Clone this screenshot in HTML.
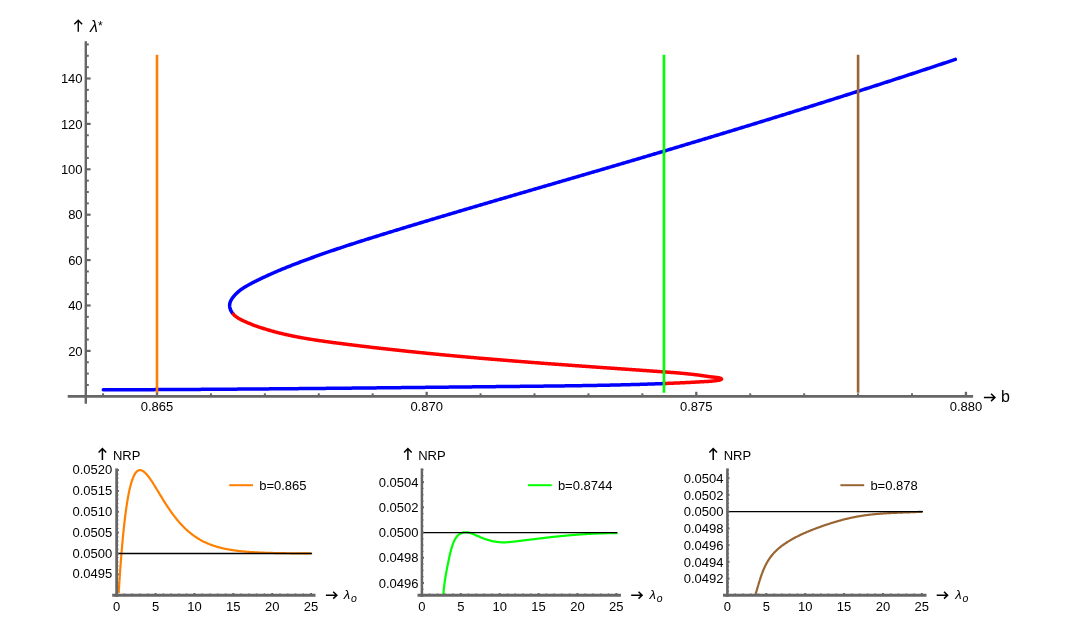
<!DOCTYPE html>
<html><head><meta charset="utf-8"><title>Bifurcation plot</title>
<style>
html,body{margin:0;padding:0;background:#ffffff;}
body{width:1066px;height:642px;overflow:hidden;font-family:"Liberation Sans", sans-serif;}
svg text{font-family:"Liberation Sans", sans-serif;}
</style></head>
<body>
<svg width="1066" height="642" viewBox="0 0 1066 642" style="display:block;will-change:transform" font-family='"Liberation Sans", sans-serif'>
<path d="M955.31,59.42 L954.59,59.66 L953.87,59.90 L953.15,60.15 L952.43,60.39 L951.71,60.63 L950.99,60.87 L950.27,61.11 L949.55,61.35 L948.84,61.59 L948.12,61.83 L947.40,62.07 L946.68,62.31 L945.96,62.55 L945.24,62.79 L944.52,63.03 L943.80,63.27 L943.08,63.51 L942.36,63.75 L941.64,63.99 L940.92,64.23 L940.20,64.47 L939.48,64.71 L938.76,64.95 L938.04,65.19 L937.32,65.43 L936.60,65.66 L935.89,65.90 L935.17,66.14 L934.45,66.38 L933.73,66.62 L933.01,66.86 L932.29,67.10 L931.57,67.34 L930.85,67.57 L930.13,67.81 L929.41,68.05 L928.69,68.29 L927.97,68.53 L927.25,68.77 L926.53,69.00 L925.81,69.24 L925.09,69.48 L924.37,69.72 L923.65,69.96 L922.93,70.19 L922.21,70.43 L921.49,70.67 L920.77,70.91 L920.05,71.14 L919.33,71.38 L918.61,71.62 L917.89,71.85 L917.17,72.09 L916.45,72.33 L915.72,72.57 L915.00,72.80 L914.28,73.04 L913.56,73.28 L912.84,73.51 L912.12,73.75 L911.40,73.99 L910.68,74.22 L909.96,74.46 L909.24,74.69 L908.52,74.93 L907.80,75.17 L907.08,75.40 L906.36,75.64 L905.64,75.88 L904.92,76.11 L904.20,76.35 L903.48,76.58 L902.75,76.82 L902.03,77.05 L901.31,77.29 L900.59,77.52 L899.87,77.76 L899.15,78.00 L898.43,78.23 L897.71,78.47 L896.99,78.70 L896.27,78.94 L895.55,79.17 L894.82,79.41 L894.10,79.64 L893.38,79.88 L892.66,80.11 L891.94,80.34 L891.22,80.58 L890.50,80.81 L889.78,81.05 L889.06,81.28 L888.33,81.52 L887.61,81.75 L886.89,81.98 L886.17,82.22 L885.45,82.45 L884.73,82.69 L884.01,82.92 L883.29,83.15 L882.56,83.39 L881.84,83.62 L881.12,83.85 L880.40,84.09 L879.68,84.32 L878.96,84.55 L878.24,84.79 L877.51,85.02 L876.79,85.25 L876.07,85.49 L875.35,85.72 L874.63,85.95 L873.91,86.19 L873.18,86.42 L872.46,86.65 L871.74,86.88 L871.02,87.12 L870.30,87.35 L869.58,87.58 L868.85,87.81 L868.13,88.05 L867.41,88.28 L866.69,88.51 L865.97,88.74 L865.24,88.97 L864.52,89.21 L863.80,89.44 L863.08,89.67 L862.36,89.90 L861.63,90.13 L860.91,90.37 L860.19,90.60 L859.47,90.83 L858.75,91.06 L858.02,91.29 L857.30,91.52 L856.58,91.75 L855.86,91.99 L855.13,92.22 L854.41,92.45 L853.69,92.68 L852.97,92.91 L852.25,93.14 L851.52,93.37 L850.80,93.60 L850.08,93.83 L849.36,94.06 L848.63,94.29 L847.91,94.52 L847.19,94.75 L846.47,94.98 L845.74,95.21 L845.02,95.45 L844.30,95.68 L843.58,95.91 L842.85,96.14 L842.13,96.37 L841.41,96.60 L840.69,96.82 L839.96,97.05 L839.24,97.28 L838.52,97.51 L837.79,97.74 L837.07,97.97 L836.35,98.20 L835.63,98.43 L834.90,98.66 L834.18,98.89 L833.46,99.12 L832.74,99.35 L832.01,99.58 L831.29,99.81 L830.57,100.04 L829.84,100.26 L829.12,100.49 L828.40,100.72 L827.67,100.95 L826.95,101.18 L826.23,101.41 L825.51,101.64 L824.78,101.86 L824.06,102.09 L823.34,102.32 L822.61,102.55 L821.89,102.78 L821.17,103.01 L820.44,103.23 L819.72,103.46 L819.00,103.69 L818.27,103.92 L817.55,104.15 L816.83,104.37 L816.10,104.60 L815.38,104.83 L814.66,105.06 L813.93,105.28 L813.21,105.51 L812.49,105.74 L811.76,105.97 L811.04,106.19 L810.32,106.42 L809.59,106.65 L808.87,106.87 L808.15,107.10 L807.42,107.33 L806.70,107.55 L805.97,107.78 L805.25,108.01 L804.53,108.24 L803.80,108.46 L803.08,108.69 L802.36,108.91 L801.63,109.14 L800.91,109.37 L800.19,109.59 L799.46,109.82 L798.74,110.05 L798.01,110.27 L797.29,110.50 L796.57,110.72 L795.84,110.95 L795.12,111.18 L794.39,111.40 L793.67,111.63 L792.95,111.85 L792.22,112.08 L791.50,112.31 L790.78,112.53 L790.05,112.76 L789.33,112.98 L788.60,113.21 L787.88,113.43 L787.15,113.66 L786.43,113.88 L785.71,114.11 L784.98,114.33 L784.26,114.56 L783.53,114.78 L782.81,115.01 L782.09,115.23 L781.36,115.46 L780.64,115.68 L779.91,115.91 L779.19,116.13 L778.46,116.36 L777.74,116.58 L777.02,116.81 L776.29,117.03 L775.57,117.26 L774.84,117.48 L774.12,117.70 L773.39,117.93 L772.67,118.15 L771.95,118.38 L771.22,118.60 L770.50,118.82 L769.77,119.05 L769.05,119.27 L768.32,119.50 L767.60,119.72 L766.87,119.94 L766.15,120.17 L765.42,120.39 L764.70,120.61 L763.97,120.84 L763.25,121.06 L762.53,121.28 L761.80,121.51 L761.08,121.73 L760.35,121.95 L759.63,122.18 L758.90,122.40 L758.18,122.62 L757.45,122.85 L756.73,123.07 L756.00,123.29 L755.28,123.51 L754.55,123.74 L753.83,123.96 L753.10,124.18 L752.38,124.41 L751.65,124.63 L750.93,124.85 L750.20,125.07 L749.48,125.30 L748.75,125.52 L748.03,125.74 L747.30,125.96 L746.58,126.18 L745.85,126.41 L745.13,126.63 L744.40,126.85 L743.68,127.07 L742.95,127.29 L742.23,127.52 L741.50,127.74 L740.78,127.96 L740.05,128.18 L739.33,128.40 L738.60,128.63 L737.88,128.85 L737.15,129.07 L736.43,129.29 L735.70,129.51 L734.98,129.73 L734.25,129.95 L733.52,130.18 L732.80,130.40 L732.07,130.62 L731.35,130.84 L730.62,131.06 L729.90,131.28 L729.17,131.50 L728.45,131.72 L727.72,131.94 L727.00,132.16 L726.27,132.38 L725.54,132.61 L724.82,132.83 L724.09,133.05 L723.37,133.27 L722.64,133.49 L721.92,133.71 L721.19,133.93 L720.47,134.15 L719.74,134.37 L719.01,134.59 L718.29,134.81 L717.56,135.03 L716.84,135.25 L716.11,135.47 L715.39,135.69 L714.66,135.91 L713.93,136.13 L713.21,136.35 L712.48,136.57 L711.76,136.79 L711.03,137.01 L710.31,137.23 L709.58,137.45 L708.85,137.67 L708.13,137.89 L707.40,138.11 L706.68,138.33 L705.95,138.54 L705.22,138.76 L704.50,138.98 L703.77,139.20 L703.05,139.42 L702.32,139.64 L701.59,139.86 L700.87,140.08 L700.14,140.30 L699.42,140.52 L698.69,140.74 L697.96,140.95 L697.24,141.17 L696.51,141.39 L695.79,141.61 L695.06,141.83 L694.33,142.05 L693.61,142.27 L692.88,142.48 L692.16,142.70 L691.43,142.92 L690.70,143.14 L689.98,143.36 L689.25,143.58 L688.52,143.79 L687.80,144.01 L687.07,144.23 L686.35,144.45 L685.62,144.67 L684.89,144.89 L684.17,145.10 L683.44,145.32 L682.71,145.54 L681.99,145.76 L681.26,145.97 L680.53,146.19 L679.81,146.41 L679.08,146.63 L678.35,146.84 L677.63,147.06 L676.90,147.28 L676.18,147.50 L675.45,147.71 L674.72,147.93 L674.00,148.15 L673.27,148.37 L672.54,148.58 L671.82,148.80 L671.09,149.02 L670.36,149.24 L669.64,149.45 L668.91,149.67 L668.18,149.89 L667.46,150.10 L666.73,150.32 L666.00,150.54 L665.28,150.75 L664.55,150.97 L663.82,151.19 L663.10,151.40 L662.37,151.62 L661.64,151.84 L660.92,152.05 L660.19,152.27 L659.46,152.49 L658.74,152.70 L658.01,152.92 L657.28,153.14 L656.56,153.35 L655.83,153.57 L655.10,153.78 L654.37,154.00 L653.65,154.22 L652.92,154.43 L652.19,154.65 L651.47,154.86 L650.74,155.08 L650.01,155.30 L649.29,155.51 L648.56,155.73 L647.83,155.94 L647.11,156.16 L646.38,156.37 L645.65,156.59 L644.92,156.81 L644.20,157.02 L643.47,157.24 L642.74,157.45 L642.02,157.67 L641.29,157.88 L640.56,158.10 L639.83,158.31 L639.11,158.53 L638.38,158.74 L637.65,158.96 L636.93,159.17 L636.20,159.39 L635.47,159.60 L634.74,159.82 L634.02,160.03 L633.29,160.25 L632.56,160.46 L631.84,160.68 L631.11,160.89 L630.38,161.11 L629.65,161.32 L628.93,161.54 L628.20,161.75 L627.47,161.97 L626.74,162.18 L626.02,162.40 L625.29,162.61 L624.56,162.83 L623.83,163.04 L623.11,163.25 L622.38,163.47 L621.65,163.68 L620.93,163.90 L620.20,164.11 L619.47,164.33 L618.74,164.54 L618.02,164.75 L617.29,164.97 L616.56,165.18 L615.83,165.40 L615.11,165.61 L614.38,165.82 L613.65,166.04 L612.92,166.25 L612.20,166.47 L611.47,166.68 L610.74,166.89 L610.01,167.11 L609.29,167.32 L608.56,167.53 L607.83,167.75 L607.10,167.96 L606.37,168.18 L605.65,168.39 L604.92,168.60 L604.19,168.82 L603.46,169.03 L602.74,169.24 L602.01,169.46 L601.28,169.67 L600.55,169.88 L599.83,170.10 L599.10,170.31 L598.37,170.52 L597.64,170.74 L596.91,170.95 L596.19,171.16 L595.46,171.38 L594.73,171.59 L594.00,171.80 L593.28,172.01 L592.55,172.23 L591.82,172.44 L591.09,172.65 L590.37,172.87 L589.64,173.08 L588.91,173.29 L588.18,173.51 L587.45,173.72 L586.73,173.93 L586.00,174.14 L585.27,174.36 L584.54,174.57 L583.81,174.78 L583.09,174.99 L582.36,175.21 L581.63,175.42 L580.90,175.63 L580.18,175.85 L579.45,176.06 L578.72,176.27 L577.99,176.48 L577.26,176.70 L576.54,176.91 L575.81,177.12 L575.08,177.33 L574.35,177.55 L573.62,177.76 L572.90,177.97 L572.17,178.18 L571.44,178.40 L570.71,178.61 L569.98,178.82 L569.26,179.03 L568.53,179.25 L567.80,179.46 L567.07,179.67 L566.35,179.88 L565.62,180.10 L564.89,180.31 L564.16,180.52 L563.43,180.73 L562.71,180.95 L561.98,181.16 L561.25,181.37 L560.52,181.58 L559.79,181.80 L559.07,182.01 L558.34,182.22 L557.61,182.43 L556.88,182.64 L556.15,182.86 L555.43,183.07 L554.70,183.28 L553.97,183.49 L553.24,183.71 L552.51,183.92 L551.79,184.13 L551.06,184.34 L550.33,184.56 L549.60,184.77 L548.87,184.98 L548.15,185.19 L547.42,185.41 L546.69,185.62 L545.96,185.83 L545.23,186.04 L544.51,186.25 L543.78,186.47 L543.05,186.68 L542.32,186.89 L541.59,187.10 L540.87,187.32 L540.14,187.53 L539.41,187.74 L538.68,187.95 L537.95,188.17 L537.23,188.38 L536.50,188.59 L535.77,188.80 L535.04,189.02 L534.31,189.23 L533.59,189.44 L532.86,189.65 L532.13,189.87 L531.40,190.08 L530.68,190.29 L529.95,190.50 L529.22,190.72 L528.49,190.93 L527.76,191.14 L527.04,191.35 L526.31,191.57 L525.58,191.78 L524.85,191.99 L524.12,192.20 L523.40,192.42 L522.67,192.63 L521.94,192.84 L521.21,193.05 L520.48,193.27 L519.76,193.48 L519.03,193.69 L518.30,193.90 L517.57,194.12 L516.85,194.33 L516.12,194.54 L515.39,194.76 L514.66,194.97 L513.93,195.18 L513.21,195.39 L512.48,195.61 L511.75,195.82 L511.02,196.03 L510.30,196.25 L509.57,196.46 L508.84,196.67 L508.11,196.88 L507.38,197.10 L506.66,197.31 L505.93,197.52 L505.20,197.74 L504.47,197.95 L503.75,198.16 L503.02,198.38 L502.29,198.59 L501.56,198.80 L500.83,199.02 L500.11,199.23 L499.38,199.44 L498.65,199.66 L497.92,199.87 L497.20,200.08 L496.47,200.30 L495.74,200.51 L495.01,200.72 L494.29,200.94 L493.56,201.15 L492.83,201.36 L492.10,201.58 L491.38,201.79 L490.65,202.01 L489.92,202.22 L489.19,202.43 L488.47,202.65 L487.74,202.86 L487.01,203.07 L486.28,203.29 L485.56,203.50 L484.83,203.72 L484.10,203.93 L483.37,204.14 L482.65,204.36 L481.92,204.57 L481.19,204.79 L480.46,205.00 L479.74,205.22 L479.01,205.43 L478.28,205.64 L477.55,205.86 L476.83,206.07 L476.10,206.29 L475.37,206.50 L474.64,206.72 L473.92,206.93 L473.19,207.15 L472.46,207.36 L471.73,207.58 L471.01,207.79 L470.28,208.00 L469.55,208.22 L468.83,208.43 L468.10,208.65 L467.37,208.86 L466.64,209.08 L465.92,209.29 L465.19,209.51 L464.46,209.73 L463.74,209.94 L463.01,210.16 L462.28,210.37 L461.55,210.59 L460.83,210.80 L460.10,211.02 L459.37,211.23 L458.65,211.45 L457.92,211.66 L457.19,211.88 L456.47,212.10 L455.74,212.31 L455.01,212.53 L454.28,212.74 L453.56,212.96 L452.83,213.18 L452.10,213.39 L451.38,213.61 L450.65,213.82 L449.92,214.04 L449.20,214.26 L448.47,214.47 L447.74,214.69 L447.02,214.91 L446.29,215.12 L445.56,215.34 L444.84,215.56 L444.11,215.77 L443.38,215.99 L442.66,216.21 L441.93,216.42 L441.20,216.64 L440.48,216.86 L439.75,217.07 L439.02,217.29 L438.30,217.51 L437.57,217.73 L436.84,217.94 L436.12,218.16 L435.39,218.38 L434.66,218.60 L433.94,218.81 L433.21,219.03 L432.48,219.25 L431.76,219.47 L431.03,219.68 L430.31,219.90 L429.58,220.12 L428.85,220.34 L428.13,220.56 L427.40,220.77 L426.67,220.99 L425.95,221.21 L425.22,221.43 L424.50,221.65 L423.77,221.87 L423.04,222.09 L422.32,222.30 L421.59,222.52 L420.86,222.74 L420.14,222.96 L419.41,223.18 L418.69,223.40 L417.96,223.62 L417.23,223.84 L416.51,224.06 L415.78,224.28 L415.06,224.50 L414.33,224.72 L413.60,224.94 L412.88,225.15 L412.15,225.37 L411.43,225.59 L410.70,225.81 L409.98,226.03 L409.25,226.25 L408.52,226.47 L407.80,226.70 L407.07,226.92 L406.35,227.14 L405.62,227.36 L404.90,227.58 L404.17,227.80 L403.45,228.02 L402.72,228.24 L401.99,228.46 L401.27,228.68 L400.54,228.90 L399.82,229.12 L399.09,229.35 L398.37,229.57 L397.64,229.79 L396.92,230.01 L396.19,230.23 L395.47,230.45 L394.74,230.67 L394.02,230.90 L393.29,231.12 L392.56,231.34 L391.84,231.56 L391.11,231.78 L390.39,232.01 L389.66,232.23 L388.94,232.45 L388.21,232.67 L387.49,232.90 L386.76,233.12 L386.04,233.34 L385.31,233.57 L384.59,233.79 L383.86,234.01 L383.14,234.24 L382.42,234.46 L381.69,234.68 L380.97,234.91 L380.24,235.13 L379.52,235.36 L378.79,235.58 L378.07,235.80 L377.34,236.03 L376.62,236.25 L375.90,236.48 L375.17,236.70 L374.45,236.93 L373.72,237.16 L373.00,237.38 L372.27,237.61 L371.55,237.83 L370.83,238.06 L370.10,238.29 L369.38,238.51 L368.66,238.74 L367.93,238.97 L367.21,239.20 L366.49,239.42 L365.76,239.65 L365.04,239.88 L364.32,240.11 L363.59,240.34 L362.87,240.57 L362.15,240.79 L361.42,241.02 L360.70,241.25 L359.98,241.48 L359.26,241.71 L358.53,241.94 L357.81,242.18 L357.09,242.41 L356.37,242.64 L355.65,242.87 L354.92,243.10 L354.20,243.33 L353.48,243.57 L352.76,243.80 L352.04,244.03 L351.32,244.27 L350.59,244.50 L349.87,244.74 L349.15,244.97 L348.43,245.21 L347.71,245.44 L346.99,245.68 L346.27,245.91 L345.55,246.15 L344.83,246.39 L344.11,246.62 L343.39,246.86 L342.67,247.10 L341.95,247.34 L341.23,247.58 L340.51,247.81 L339.79,248.05 L339.07,248.29 L338.35,248.53 L337.63,248.77 L336.91,249.02 L336.19,249.26 L335.48,249.50 L334.76,249.74 L334.04,249.98 L333.32,250.23 L332.60,250.47 L331.88,250.72 L331.17,250.96 L330.45,251.21 L329.73,251.45 L329.01,251.70 L328.30,251.94 L327.58,252.19 L326.86,252.44 L326.15,252.69 L325.43,252.93 L324.72,253.18 L324.00,253.43 L323.28,253.68 L322.57,253.93 L321.85,254.18 L321.14,254.43 L320.42,254.69 L319.71,254.94 L318.99,255.19 L318.28,255.44 L317.56,255.70 L316.85,255.95 L316.13,256.21 L315.42,256.46 L314.71,256.72 L313.99,256.98 L313.28,257.23 L312.57,257.49 L311.85,257.75 L311.14,258.01 L310.43,258.27 L309.72,258.53 L309.00,258.79 L308.29,259.05 L307.58,259.31 L306.87,259.58 L306.16,259.84 L305.45,260.10 L304.74,260.37 L304.03,260.63 L303.32,260.90 L302.60,261.16 L301.89,261.43 L301.19,261.70 L300.48,261.97 L299.77,262.24 L299.06,262.51 L298.35,262.78 L297.64,263.05 L296.93,263.32 L296.22,263.59 L295.52,263.86 L294.81,264.14 L294.10,264.41 L293.39,264.69 L292.69,264.96 L291.98,265.24 L291.27,265.52 L290.57,265.79 L289.86,266.07 L289.16,266.35 L288.45,266.63 L287.75,266.92 L287.05,267.20 L286.34,267.48 L285.64,267.77 L284.94,268.05 L284.23,268.34 L283.53,268.63 L282.83,268.92 L282.13,269.20 L281.43,269.49 L280.73,269.79 L280.03,270.08 L279.33,270.37 L278.63,270.67 L277.93,270.96 L277.24,271.26 L276.54,271.56 L275.84,271.86 L275.15,272.16 L274.45,272.46 L273.76,272.76 L273.06,273.06 L272.37,273.37 L271.67,273.67 L270.98,273.98 L270.29,274.29 L269.60,274.60 L268.91,274.91 L268.22,275.22 L267.53,275.53 L266.84,275.85 L266.15,276.16 L265.46,276.48 L264.77,276.80 L264.09,277.12 L263.40,277.44 L262.72,277.76 L262.03,278.09 L261.35,278.41 L260.67,278.74 L259.98,279.07 L259.30,279.40 L258.62,279.73 L257.94,280.06 L257.26,280.40 L256.58,280.73 L255.90,281.07 L255.23,281.41 L254.55,281.75 L253.88,282.09 L253.20,282.43 L252.53,282.78 L251.85,283.13 L251.18,283.48 L250.51,283.83 L249.85,284.18 L249.18,284.54 L248.52,284.91 L247.86,285.27 L247.20,285.65 L246.54,286.03 L245.89,286.41 L245.25,286.80 L244.60,287.20 L243.96,287.60 L243.33,288.02 L242.70,288.44 L242.08,288.86 L241.46,289.30 L240.84,289.75 L240.24,290.21 L239.63,290.67 L239.04,291.15 L238.45,291.64 L237.87,292.14 L237.30,292.65 L236.73,293.17 L236.17,293.71 L235.62,294.26 L235.08,294.82 L234.55,295.40 L234.03,295.99 L233.52,296.59 L233.03,297.21 L232.56,297.84 L232.11,298.48 L231.69,299.13 L231.30,299.79 L230.95,300.45 L230.62,301.13 L230.34,301.82 L230.10,302.51 L229.90,303.21 L229.75,303.92 L229.66,304.63 L229.61,305.35 L229.62,306.08 L229.70,306.80 L229.82,307.53 L230.00,308.26 L230.23,308.98 L230.50,309.70 L230.82,310.41 L231.18,311.10 L231.58,311.78 L232.01,312.45 L232.48,313.09" fill="none" stroke="#0000ff" stroke-width="3.5" stroke-linecap="round" stroke-linejoin="round"/>
<path d="M665.17,383.50 L664.41,383.53 L663.65,383.55 L662.89,383.58 L662.14,383.61 L661.38,383.64 L660.62,383.67 L659.86,383.70 L659.10,383.73 L658.35,383.75 L657.59,383.78 L656.83,383.81 L656.07,383.84 L655.31,383.86 L654.56,383.89 L653.80,383.92 L653.04,383.94 L652.28,383.97 L651.52,383.99 L650.76,384.02 L650.01,384.05 L649.25,384.07 L648.49,384.10 L647.73,384.12 L646.97,384.15 L646.22,384.17 L645.46,384.19 L644.70,384.22 L643.94,384.24 L643.18,384.27 L642.42,384.29 L641.67,384.31 L640.91,384.34 L640.15,384.36 L639.39,384.38 L638.63,384.40 L637.88,384.43 L637.12,384.45 L636.36,384.47 L635.60,384.49 L634.84,384.51 L634.09,384.53 L633.33,384.56 L632.57,384.58 L631.81,384.60 L631.05,384.62 L630.29,384.64 L629.54,384.66 L628.78,384.68 L628.02,384.70 L627.26,384.72 L626.50,384.74 L625.75,384.76 L624.99,384.78 L624.23,384.80 L623.47,384.82 L622.71,384.83 L621.96,384.85 L621.20,384.87 L620.44,384.89 L619.68,384.91 L618.92,384.93 L618.16,384.94 L617.41,384.96 L616.65,384.98 L615.89,385.00 L615.13,385.01 L614.37,385.03 L613.62,385.05 L612.86,385.06 L612.10,385.08 L611.34,385.10 L610.58,385.11 L609.82,385.13 L609.07,385.14 L608.31,385.16 L607.55,385.18 L606.79,385.19 L606.03,385.21 L605.28,385.22 L604.52,385.24 L603.76,385.25 L603.00,385.27 L602.24,385.28 L601.49,385.30 L600.73,385.31 L599.97,385.33 L599.21,385.34 L598.45,385.35 L597.69,385.37 L596.94,385.38 L596.18,385.40 L595.42,385.41 L594.66,385.42 L593.90,385.44 L593.15,385.45 L592.39,385.46 L591.63,385.48 L590.87,385.49 L590.11,385.50 L589.35,385.51 L588.60,385.53 L587.84,385.54 L587.08,385.55 L586.32,385.56 L585.56,385.58 L584.81,385.59 L584.05,385.60 L583.29,385.61 L582.53,385.62 L581.77,385.64 L581.02,385.65 L580.26,385.66 L579.50,385.67 L578.74,385.68 L577.98,385.69 L577.22,385.70 L576.47,385.72 L575.71,385.73 L574.95,385.74 L574.19,385.75 L573.43,385.76 L572.68,385.77 L571.92,385.78 L571.16,385.79 L570.40,385.80 L569.64,385.81 L568.88,385.82 L568.13,385.83 L567.37,385.84 L566.61,385.85 L565.85,385.86 L565.09,385.87 L564.34,385.88 L563.58,385.89 L562.82,385.90 L562.06,385.91 L561.30,385.92 L560.55,385.93 L559.79,385.94 L559.03,385.95 L558.27,385.96 L557.51,385.97 L556.75,385.97 L556.00,385.98 L555.24,385.99 L554.48,386.00 L553.72,386.01 L552.96,386.02 L552.21,386.03 L551.45,386.04 L550.69,386.05 L549.93,386.05 L549.17,386.06 L548.41,386.07 L547.66,386.08 L546.90,386.09 L546.14,386.10 L545.38,386.11 L544.62,386.11 L543.87,386.12 L543.11,386.13 L542.35,386.14 L541.59,386.15 L540.83,386.16 L540.07,386.16 L539.32,386.17 L538.56,386.18 L537.80,386.19 L537.04,386.20 L536.28,386.20 L535.53,386.21 L534.77,386.22 L534.01,386.23 L533.25,386.24 L532.49,386.24 L531.73,386.25 L530.98,386.26 L530.22,386.27 L529.46,386.28 L528.70,386.28 L527.94,386.29 L527.19,386.30 L526.43,386.31 L525.67,386.32 L524.91,386.32 L524.15,386.33 L523.39,386.34 L522.64,386.35 L521.88,386.35 L521.12,386.36 L520.36,386.37 L519.60,386.38 L518.85,386.39 L518.09,386.39 L517.33,386.40 L516.57,386.41 L515.81,386.42 L515.05,386.43 L514.30,386.43 L513.54,386.44 L512.78,386.45 L512.02,386.46 L511.26,386.46 L510.51,386.47 L509.75,386.48 L508.99,386.49 L508.23,386.50 L507.47,386.50 L506.71,386.51 L505.96,386.52 L505.20,386.53 L504.44,386.54 L503.68,386.54 L502.92,386.55 L502.17,386.56 L501.41,386.57 L500.65,386.58 L499.89,386.58 L499.13,386.59 L498.37,386.60 L497.62,386.61 L496.86,386.62 L496.10,386.62 L495.34,386.63 L494.58,386.64 L493.82,386.65 L493.07,386.65 L492.31,386.66 L491.55,386.67 L490.79,386.68 L490.03,386.69 L489.28,386.69 L488.52,386.70 L487.76,386.71 L487.00,386.72 L486.24,386.73 L485.48,386.73 L484.73,386.74 L483.97,386.75 L483.21,386.76 L482.45,386.77 L481.69,386.77 L480.93,386.78 L480.18,386.79 L479.42,386.80 L478.66,386.81 L477.90,386.81 L477.14,386.82 L476.39,386.83 L475.63,386.84 L474.87,386.85 L474.11,386.85 L473.35,386.86 L472.59,386.87 L471.84,386.88 L471.08,386.89 L470.32,386.89 L469.56,386.90 L468.80,386.91 L468.04,386.92 L467.29,386.93 L466.53,386.93 L465.77,386.94 L465.01,386.95 L464.25,386.96 L463.50,386.97 L462.74,386.98 L461.98,386.98 L461.22,386.99 L460.46,387.00 L459.70,387.01 L458.95,387.02 L458.19,387.02 L457.43,387.03 L456.67,387.04 L455.91,387.05 L455.15,387.06 L454.40,387.06 L453.64,387.07 L452.88,387.08 L452.12,387.09 L451.36,387.10 L450.60,387.10 L449.85,387.11 L449.09,387.12 L448.33,387.13 L447.57,387.14 L446.81,387.14 L446.06,387.15 L445.30,387.16 L444.54,387.17 L443.78,387.18 L443.02,387.18 L442.26,387.19 L441.51,387.20 L440.75,387.21 L439.99,387.22 L439.23,387.22 L438.47,387.23 L437.71,387.24 L436.96,387.25 L436.20,387.26 L435.44,387.26 L434.68,387.27 L433.92,387.28 L433.16,387.29 L432.41,387.30 L431.65,387.30 L430.89,387.31 L430.13,387.32 L429.37,387.33 L428.62,387.34 L427.86,387.34 L427.10,387.35 L426.34,387.36 L425.58,387.37 L424.82,387.38 L424.07,387.38 L423.31,387.39 L422.55,387.40 L421.79,387.41 L421.03,387.42 L420.27,387.42 L419.52,387.43 L418.76,387.44 L418.00,387.45 L417.24,387.46 L416.48,387.46 L415.72,387.47 L414.97,387.48 L414.21,387.49 L413.45,387.49 L412.69,387.50 L411.93,387.51 L411.17,387.52 L410.42,387.53 L409.66,387.53 L408.90,387.54 L408.14,387.55 L407.38,387.56 L406.62,387.57 L405.87,387.57 L405.11,387.58 L404.35,387.59 L403.59,387.60 L402.83,387.61 L402.08,387.61 L401.32,387.62 L400.56,387.63 L399.80,387.64 L399.04,387.64 L398.28,387.65 L397.53,387.66 L396.77,387.67 L396.01,387.68 L395.25,387.68 L394.49,387.69 L393.73,387.70 L392.98,387.71 L392.22,387.72 L391.46,387.72 L390.70,387.73 L389.94,387.74 L389.18,387.75 L388.43,387.75 L387.67,387.76 L386.91,387.77 L386.15,387.78 L385.39,387.79 L384.63,387.79 L383.88,387.80 L383.12,387.81 L382.36,387.82 L381.60,387.82 L380.84,387.83 L380.08,387.84 L379.33,387.85 L378.57,387.85 L377.81,387.86 L377.05,387.87 L376.29,387.88 L375.53,387.89 L374.78,387.89 L374.02,387.90 L373.26,387.91 L372.50,387.92 L371.74,387.92 L370.98,387.93 L370.23,387.94 L369.47,387.95 L368.71,387.95 L367.95,387.96 L367.19,387.97 L366.43,387.98 L365.68,387.98 L364.92,387.99 L364.16,388.00 L363.40,388.01 L362.64,388.02 L361.88,388.02 L361.13,388.03 L360.37,388.04 L359.61,388.05 L358.85,388.05 L358.09,388.06 L357.33,388.07 L356.58,388.08 L355.82,388.08 L355.06,388.09 L354.30,388.10 L353.54,388.11 L352.79,388.11 L352.03,388.12 L351.27,388.13 L350.51,388.14 L349.75,388.14 L348.99,388.15 L348.24,388.16 L347.48,388.16 L346.72,388.17 L345.96,388.18 L345.20,388.19 L344.44,388.19 L343.69,388.20 L342.93,388.21 L342.17,388.22 L341.41,388.22 L340.65,388.23 L339.89,388.24 L339.14,388.25 L338.38,388.25 L337.62,388.26 L336.86,388.27 L336.10,388.28 L335.34,388.28 L334.59,388.29 L333.83,388.30 L333.07,388.30 L332.31,388.31 L331.55,388.32 L330.79,388.33 L330.04,388.33 L329.28,388.34 L328.52,388.35 L327.76,388.35 L327.00,388.36 L326.24,388.37 L325.49,388.38 L324.73,388.38 L323.97,388.39 L323.21,388.40 L322.45,388.40 L321.69,388.41 L320.94,388.42 L320.18,388.43 L319.42,388.43 L318.66,388.44 L317.90,388.45 L317.14,388.45 L316.39,388.46 L315.63,388.47 L314.87,388.48 L314.11,388.48 L313.35,388.49 L312.59,388.50 L311.84,388.50 L311.08,388.51 L310.32,388.52 L309.56,388.52 L308.80,388.53 L308.04,388.54 L307.29,388.54 L306.53,388.55 L305.77,388.56 L305.01,388.57 L304.25,388.57 L303.49,388.58 L302.74,388.59 L301.98,388.59 L301.22,388.60 L300.46,388.61 L299.70,388.61 L298.94,388.62 L298.19,388.63 L297.43,388.63 L296.67,388.64 L295.91,388.65 L295.15,388.65 L294.39,388.66 L293.64,388.67 L292.88,388.67 L292.12,388.68 L291.36,388.69 L290.60,388.69 L289.84,388.70 L289.09,388.71 L288.33,388.71 L287.57,388.72 L286.81,388.73 L286.05,388.73 L285.29,388.74 L284.54,388.75 L283.78,388.75 L283.02,388.76 L282.26,388.77 L281.50,388.77 L280.74,388.78 L279.99,388.78 L279.23,388.79 L278.47,388.80 L277.71,388.80 L276.95,388.81 L276.19,388.82 L275.44,388.82 L274.68,388.83 L273.92,388.84 L273.16,388.84 L272.40,388.85 L271.64,388.85 L270.89,388.86 L270.13,388.87 L269.37,388.87 L268.61,388.88 L267.85,388.89 L267.09,388.89 L266.34,388.90 L265.58,388.90 L264.82,388.91 L264.06,388.92 L263.30,388.92 L262.54,388.93 L261.79,388.94 L261.03,388.94 L260.27,388.95 L259.51,388.95 L258.75,388.96 L257.99,388.97 L257.24,388.97 L256.48,388.98 L255.72,388.98 L254.96,388.99 L254.20,389.00 L253.44,389.00 L252.69,389.01 L251.93,389.01 L251.17,389.02 L250.41,389.03 L249.65,389.03 L248.89,389.04 L248.14,389.04 L247.38,389.05 L246.62,389.05 L245.86,389.06 L245.10,389.07 L244.34,389.07 L243.59,389.08 L242.83,389.08 L242.07,389.09 L241.31,389.09 L240.55,389.10 L239.79,389.11 L239.04,389.11 L238.28,389.12 L237.52,389.12 L236.76,389.13 L236.00,389.13 L235.24,389.14 L234.49,389.14 L233.73,389.15 L232.97,389.16 L232.21,389.16 L231.45,389.17 L230.69,389.17 L229.94,389.18 L229.18,389.18 L228.42,389.19 L227.66,389.19 L226.90,389.20 L226.14,389.20 L225.39,389.21 L224.63,389.22 L223.87,389.22 L223.11,389.23 L222.35,389.23 L221.59,389.24 L220.84,389.24 L220.08,389.25 L219.32,389.25 L218.56,389.26 L217.80,389.26 L217.04,389.27 L216.29,389.27 L215.53,389.28 L214.77,389.28 L214.01,389.29 L213.25,389.29 L212.49,389.30 L211.74,389.30 L210.98,389.31 L210.22,389.31 L209.46,389.32 L208.70,389.32 L207.95,389.33 L207.19,389.33 L206.43,389.34 L205.67,389.34 L204.91,389.35 L204.15,389.35 L203.40,389.36 L202.64,389.36 L201.88,389.37 L201.12,389.37 L200.36,389.38 L199.60,389.38 L198.85,389.39 L198.09,389.39 L197.33,389.39 L196.57,389.40 L195.81,389.40 L195.05,389.41 L194.30,389.41 L193.54,389.42 L192.78,389.42 L192.02,389.43 L191.26,389.43 L190.50,389.44 L189.75,389.44 L188.99,389.44 L188.23,389.45 L187.47,389.45 L186.71,389.46 L185.95,389.46 L185.20,389.47 L184.44,389.47 L183.68,389.48 L182.92,389.48 L182.16,389.48 L181.40,389.49 L180.65,389.49 L179.89,389.50 L179.13,389.50 L178.37,389.50 L177.61,389.51 L176.85,389.51 L176.10,389.52 L175.34,389.52 L174.58,389.52 L173.82,389.53 L173.06,389.53 L172.30,389.54 L171.55,389.54 L170.79,389.54 L170.03,389.55 L169.27,389.55 L168.51,389.56 L167.75,389.56 L167.00,389.56 L166.24,389.57 L165.48,389.57 L164.72,389.58 L163.96,389.58 L163.21,389.58 L162.45,389.59 L161.69,389.59 L160.93,389.59 L160.17,389.60 L159.41,389.60 L158.66,389.60 L157.90,389.61 L157.14,389.61 L156.38,389.62 L155.62,389.62 L154.86,389.62 L154.11,389.63 L153.35,389.63 L152.59,389.63 L151.83,389.64 L151.07,389.64 L150.31,389.64 L149.56,389.65 L148.80,389.65 L148.04,389.65 L147.28,389.66 L146.52,389.66 L145.76,389.66 L145.01,389.67 L144.25,389.67 L143.49,389.67 L142.73,389.67 L141.97,389.68 L141.21,389.68 L140.46,389.68 L139.70,389.69 L138.94,389.69 L138.18,389.69 L137.42,389.70 L136.67,389.70 L135.91,389.70 L135.15,389.70 L134.39,389.71 L133.63,389.71 L132.87,389.71 L132.12,389.72 L131.36,389.72 L130.60,389.72 L129.84,389.72 L129.08,389.73 L128.32,389.73 L127.57,389.73 L126.81,389.73 L126.05,389.74 L125.29,389.74 L124.53,389.74 L123.77,389.74 L123.02,389.75 L122.26,389.75 L121.50,389.75 L120.74,389.75 L119.98,389.76 L119.23,389.76 L118.47,389.76 L117.71,389.76 L116.95,389.77 L116.19,389.77 L115.43,389.77 L114.68,389.77 L113.92,389.77 L113.16,389.78 L112.40,389.78 L111.64,389.78 L110.88,389.78 L110.13,389.78 L109.37,389.79 L108.61,389.79 L107.85,389.79 L107.09,389.79 L106.33,389.79 L105.58,389.80 L104.82,389.80 L104.06,389.80 L103.30,389.80" fill="none" stroke="#0000ff" stroke-width="3.5" stroke-linecap="round" stroke-linejoin="round"/>
<path d="M232.48,313.09 L232.97,313.72 L233.49,314.32 L234.03,314.89 L234.60,315.44 L235.18,315.95 L235.77,316.44 L236.38,316.90 L237.01,317.34 L237.65,317.75 L238.29,318.15 L238.95,318.54 L239.61,318.91 L240.27,319.27 L240.94,319.62 L241.62,319.97 L242.30,320.31 L242.98,320.64 L243.66,320.97 L244.34,321.29 L245.03,321.61 L245.72,321.92 L246.42,322.22 L247.11,322.52 L247.81,322.82 L248.51,323.11 L249.21,323.40 L249.91,323.68 L250.62,323.96 L251.32,324.23 L252.03,324.51 L252.74,324.78 L253.44,325.04 L254.15,325.30 L254.86,325.57 L255.58,325.82 L256.29,326.08 L257.00,326.33 L257.71,326.58 L258.43,326.83 L259.14,327.08 L259.86,327.32 L260.57,327.56 L261.29,327.80 L262.01,328.03 L262.73,328.27 L263.45,328.50 L264.17,328.72 L264.89,328.95 L265.61,329.17 L266.33,329.40 L267.05,329.62 L267.77,329.83 L268.50,330.05 L269.22,330.26 L269.95,330.47 L270.67,330.68 L271.40,330.88 L272.13,331.09 L272.85,331.29 L273.58,331.49 L274.31,331.69 L275.04,331.88 L275.77,332.08 L276.50,332.27 L277.23,332.46 L277.96,332.64 L278.69,332.83 L279.43,333.01 L280.16,333.20 L280.89,333.38 L281.63,333.55 L282.36,333.73 L283.10,333.90 L283.83,334.08 L284.57,334.25 L285.31,334.42 L286.04,334.58 L286.78,334.75 L287.52,334.91 L288.26,335.08 L289.00,335.24 L289.74,335.40 L290.48,335.55 L291.22,335.71 L291.96,335.86 L292.70,336.02 L293.44,336.17 L294.19,336.32 L294.93,336.46 L295.67,336.61 L296.41,336.76 L297.16,336.90 L297.90,337.04 L298.65,337.18 L299.39,337.32 L300.14,337.46 L300.88,337.60 L301.63,337.73 L302.38,337.87 L303.12,338.00 L303.87,338.13 L304.62,338.26 L305.36,338.39 L306.11,338.52 L306.86,338.65 L307.61,338.78 L308.36,338.90 L309.11,339.02 L309.86,339.15 L310.61,339.27 L311.35,339.39 L312.10,339.51 L312.86,339.63 L313.61,339.75 L314.36,339.86 L315.11,339.98 L315.86,340.09 L316.61,340.21 L317.36,340.32 L318.11,340.43 L318.87,340.55 L319.62,340.66 L320.37,340.77 L321.12,340.88 L321.88,340.98 L322.63,341.09 L323.38,341.20 L324.14,341.31 L324.89,341.41 L325.64,341.52 L326.40,341.62 L327.15,341.72 L327.90,341.83 L328.66,341.93 L329.41,342.03 L330.17,342.13 L330.92,342.24 L331.67,342.34 L332.43,342.44 L333.18,342.54 L333.94,342.64 L334.69,342.74 L335.45,342.83 L336.20,342.93 L336.96,343.03 L337.71,343.13 L338.46,343.23 L339.22,343.32 L339.97,343.42 L340.73,343.52 L341.48,343.61 L342.24,343.71 L342.99,343.81 L343.75,343.90 L344.50,344.00 L345.26,344.09 L346.01,344.19 L346.76,344.28 L347.52,344.38 L348.27,344.47 L349.03,344.57 L349.78,344.66 L350.54,344.76 L351.29,344.85 L352.05,344.94 L352.80,345.04 L353.56,345.13 L354.31,345.22 L355.06,345.32 L355.82,345.41 L356.57,345.50 L357.33,345.59 L358.08,345.68 L358.84,345.78 L359.59,345.87 L360.35,345.96 L361.10,346.05 L361.86,346.14 L362.61,346.23 L363.36,346.32 L364.12,346.41 L364.87,346.50 L365.63,346.59 L366.38,346.68 L367.14,346.77 L367.89,346.86 L368.65,346.95 L369.40,347.04 L370.15,347.13 L370.91,347.21 L371.66,347.30 L372.42,347.39 L373.17,347.48 L373.93,347.57 L374.68,347.65 L375.44,347.74 L376.19,347.83 L376.94,347.91 L377.70,348.00 L378.45,348.09 L379.21,348.17 L379.96,348.26 L380.72,348.35 L381.47,348.43 L382.22,348.52 L382.98,348.60 L383.73,348.69 L384.49,348.77 L385.24,348.86 L386.00,348.94 L386.75,349.03 L387.51,349.11 L388.26,349.19 L389.01,349.28 L389.77,349.36 L390.52,349.44 L391.28,349.53 L392.03,349.61 L392.79,349.69 L393.54,349.78 L394.30,349.86 L395.05,349.94 L395.80,350.02 L396.56,350.10 L397.31,350.19 L398.07,350.27 L398.82,350.35 L399.58,350.43 L400.33,350.51 L401.08,350.59 L401.84,350.67 L402.59,350.75 L403.35,350.83 L404.10,350.91 L404.86,350.99 L405.61,351.07 L406.37,351.15 L407.12,351.23 L407.87,351.31 L408.63,351.39 L409.38,351.47 L410.14,351.55 L410.89,351.63 L411.65,351.71 L412.40,351.78 L413.15,351.86 L413.91,351.94 L414.66,352.02 L415.42,352.10 L416.17,352.17 L416.93,352.25 L417.68,352.33 L418.44,352.40 L419.19,352.48 L419.94,352.56 L420.70,352.63 L421.45,352.71 L422.21,352.79 L422.96,352.86 L423.72,352.94 L424.47,353.01 L425.22,353.09 L425.98,353.17 L426.73,353.24 L427.49,353.32 L428.24,353.39 L429.00,353.46 L429.75,353.54 L430.51,353.61 L431.26,353.69 L432.01,353.76 L432.77,353.84 L433.52,353.91 L434.28,353.98 L435.03,354.06 L435.79,354.13 L436.54,354.20 L437.30,354.28 L438.05,354.35 L438.81,354.42 L439.56,354.49 L440.31,354.57 L441.07,354.64 L441.82,354.71 L442.58,354.78 L443.33,354.85 L444.09,354.93 L444.84,355.00 L445.60,355.07 L446.35,355.14 L447.10,355.21 L447.86,355.28 L448.61,355.35 L449.37,355.42 L450.12,355.49 L450.88,355.56 L451.63,355.63 L452.39,355.70 L453.14,355.77 L453.90,355.84 L454.65,355.91 L455.40,355.98 L456.16,356.05 L456.91,356.12 L457.67,356.19 L458.42,356.26 L459.18,356.33 L459.93,356.40 L460.69,356.47 L461.44,356.53 L462.20,356.60 L462.95,356.67 L463.71,356.74 L464.46,356.81 L465.22,356.87 L465.97,356.94 L466.72,357.01 L467.48,357.08 L468.23,357.14 L468.99,357.21 L469.74,357.28 L470.50,357.35 L471.25,357.41 L472.01,357.48 L472.76,357.54 L473.52,357.61 L474.27,357.68 L475.03,357.74 L475.78,357.81 L476.54,357.88 L477.29,357.94 L478.05,358.01 L478.80,358.07 L479.56,358.14 L480.31,358.20 L481.07,358.27 L481.82,358.33 L482.57,358.40 L483.33,358.46 L484.08,358.53 L484.84,358.59 L485.59,358.66 L486.35,358.72 L487.10,358.78 L487.86,358.85 L488.61,358.91 L489.37,358.98 L490.12,359.04 L490.88,359.10 L491.63,359.17 L492.39,359.23 L493.14,359.29 L493.90,359.36 L494.65,359.42 L495.41,359.48 L496.16,359.55 L496.92,359.61 L497.67,359.67 L498.43,359.73 L499.18,359.80 L499.94,359.86 L500.69,359.92 L501.45,359.98 L502.20,360.04 L502.96,360.11 L503.71,360.17 L504.47,360.23 L505.23,360.29 L505.98,360.35 L506.74,360.41 L507.49,360.48 L508.25,360.54 L509.00,360.60 L509.76,360.66 L510.51,360.72 L511.27,360.78 L512.02,360.84 L512.78,360.90 L513.53,360.96 L514.29,361.02 L515.04,361.08 L515.80,361.14 L516.55,361.20 L517.31,361.26 L518.06,361.32 L518.82,361.38 L519.58,361.44 L520.33,361.50 L521.09,361.56 L521.84,361.62 L522.60,361.68 L523.35,361.74 L524.11,361.80 L524.86,361.86 L525.62,361.92 L526.37,361.98 L527.13,362.04 L527.89,362.09 L528.64,362.15 L529.40,362.21 L530.15,362.27 L530.91,362.33 L531.66,362.39 L532.42,362.45 L533.17,362.50 L533.93,362.56 L534.69,362.62 L535.44,362.68 L536.20,362.74 L536.95,362.79 L537.71,362.85 L538.46,362.91 L539.22,362.97 L539.98,363.02 L540.73,363.08 L541.49,363.14 L542.24,363.20 L543.00,363.25 L543.75,363.31 L544.51,363.37 L545.27,363.42 L546.02,363.48 L546.78,363.54 L547.53,363.59 L548.29,363.65 L549.05,363.71 L549.80,363.76 L550.56,363.82 L551.31,363.88 L552.07,363.93 L552.83,363.99 L553.58,364.04 L554.34,364.10 L555.09,364.16 L555.85,364.21 L556.61,364.27 L557.36,364.32 L558.12,364.38 L558.87,364.44 L559.63,364.49 L560.39,364.55 L561.14,364.60 L561.90,364.66 L562.66,364.71 L563.41,364.77 L564.17,364.82 L564.92,364.88 L565.68,364.93 L566.44,364.99 L567.19,365.05 L567.95,365.10 L568.71,365.15 L569.46,365.21 L570.22,365.26 L570.97,365.32 L571.73,365.37 L572.49,365.43 L573.24,365.48 L574.00,365.54 L574.76,365.59 L575.51,365.65 L576.27,365.70 L577.03,365.76 L577.78,365.81 L578.54,365.86 L579.30,365.92 L580.05,365.97 L580.81,366.03 L581.57,366.08 L582.32,366.13 L583.08,366.19 L583.84,366.24 L584.59,366.30 L585.35,366.35 L586.11,366.40 L586.86,366.46 L587.62,366.51 L588.38,366.57 L589.13,366.62 L589.89,366.67 L590.65,366.73 L591.40,366.78 L592.16,366.83 L592.92,366.89 L593.68,366.94 L594.43,366.99 L595.19,367.05 L595.95,367.10 L596.70,367.15 L597.46,367.21 L598.22,367.26 L598.97,367.31 L599.73,367.37 L600.49,367.42 L601.25,367.47 L602.00,367.53 L602.76,367.58 L603.52,367.63 L604.27,367.68 L605.03,367.74 L605.79,367.79 L606.54,367.84 L607.30,367.90 L608.06,367.95 L608.82,368.00 L609.57,368.06 L610.33,368.11 L611.09,368.16 L611.84,368.21 L612.60,368.27 L613.36,368.32 L614.12,368.37 L614.87,368.43 L615.63,368.48 L616.39,368.53 L617.14,368.58 L617.90,368.64 L618.66,368.69 L619.42,368.74 L620.17,368.80 L620.93,368.85 L621.69,368.90 L622.44,368.95 L623.20,369.01 L623.96,369.06 L624.72,369.11 L625.47,369.17 L626.23,369.22 L626.99,369.27 L627.74,369.32 L628.50,369.38 L629.26,369.43 L630.02,369.48 L630.77,369.54 L631.53,369.59 L632.29,369.64 L633.04,369.69 L633.80,369.75 L634.56,369.80 L635.32,369.85 L636.07,369.91 L636.83,369.96 L637.59,370.01 L638.34,370.07 L639.10,370.12 L639.86,370.17 L640.62,370.23 L641.37,370.28 L642.13,370.33 L642.89,370.38 L643.64,370.44 L644.40,370.49 L645.16,370.54 L645.91,370.60 L646.67,370.65 L647.43,370.70 L648.18,370.76 L648.94,370.81 L649.70,370.87 L650.46,370.92 L651.21,370.97 L651.97,371.03 L652.73,371.08 L653.48,371.13 L654.24,371.19 L655.00,371.24 L655.75,371.29 L656.51,371.35 L657.27,371.40 L658.02,371.46 L658.78,371.51 L659.54,371.56 L660.29,371.62 L661.05,371.67 L661.81,371.73 L662.56,371.78 L663.32,371.83 L664.08,371.89 L664.83,371.94 L665.59,372.00 L666.35,372.05 L667.10,372.11 L667.86,372.16 L668.62,372.22 L669.37,372.27 L670.13,372.33 L670.88,372.38 L671.64,372.44 L672.40,372.50 L673.15,372.56 L673.91,372.61 L674.66,372.67 L675.42,372.73 L676.18,372.79 L676.93,372.85 L677.69,372.92 L678.44,372.98 L679.20,373.04 L679.95,373.11 L680.71,373.17 L681.46,373.24 L682.22,373.31 L682.97,373.37 L683.73,373.44 L684.48,373.51 L685.23,373.59 L685.99,373.66 L686.74,373.73 L687.50,373.81 L688.25,373.89 L689.00,373.96 L689.76,374.04 L690.51,374.13 L691.26,374.21 L692.01,374.29 L692.77,374.38 L693.52,374.47 L694.27,374.56 L695.02,374.65 L695.77,374.74 L696.52,374.84 L697.28,374.93 L698.03,375.03 L698.78,375.13 L699.53,375.23 L700.28,375.34 L701.03,375.45 L701.78,375.55 L702.53,375.66 L703.28,375.77 L704.02,375.88 L704.77,375.99 L705.52,376.10 L706.27,376.21 L707.02,376.32 L707.77,376.43 L708.52,376.53 L709.27,376.63 L710.02,376.74 L710.77,376.83 L711.52,376.93 L712.28,377.02 L713.03,377.11 L713.78,377.20 L714.53,377.28 L715.29,377.36 L716.04,377.43 L716.80,377.50 L717.55,377.57 L718.32,377.68 L719.09,377.83 L719.88,378.05 L720.67,378.35 L721.33,378.72 L721.58,379.10 L721.28,379.44 L720.57,379.74 L719.72,380.00 L718.89,380.20 L718.10,380.36 L717.34,380.49 L716.60,380.60 L715.87,380.70 L715.13,380.79 L714.39,380.87 L713.64,380.95 L712.90,381.02 L712.15,381.09 L711.40,381.16 L710.65,381.22 L709.89,381.27 L709.14,381.33 L708.38,381.38 L707.63,381.42 L706.87,381.47 L706.11,381.52 L705.35,381.56 L704.59,381.60 L703.84,381.65 L703.08,381.69 L702.32,381.73 L701.56,381.78 L700.80,381.82 L700.05,381.86 L699.29,381.90 L698.53,381.94 L697.77,381.98 L697.01,382.02 L696.25,382.06 L695.50,382.10 L694.74,382.14 L693.98,382.18 L693.22,382.22 L692.46,382.26 L691.71,382.30 L690.95,382.34 L690.19,382.38 L689.43,382.42 L688.67,382.45 L687.91,382.49 L687.16,382.53 L686.40,382.57 L685.64,382.60 L684.88,382.64 L684.12,382.68 L683.37,382.71 L682.61,382.75 L681.85,382.78 L681.09,382.82 L680.33,382.85 L679.57,382.89 L678.82,382.92 L678.06,382.95 L677.30,382.99 L676.54,383.02 L675.78,383.06 L675.03,383.09 L674.27,383.12 L673.51,383.15 L672.75,383.19 L671.99,383.22 L671.23,383.25 L670.48,383.28 L669.72,383.31 L668.96,383.34 L668.20,383.37 L667.44,383.40 L666.69,383.44 L665.93,383.47 L665.17,383.50" fill="none" stroke="#ff0000" stroke-width="3.5" stroke-linecap="butt" stroke-linejoin="round"/>
<line x1="85.80" y1="41.20" x2="85.80" y2="403.70" stroke="#666666" stroke-width="2.4" stroke-linecap="butt"/>
<line x1="67.70" y1="396.35" x2="973.10" y2="396.35" stroke="#666666" stroke-width="2.8" stroke-linecap="butt"/>
<line x1="85.80" y1="384.95" x2="88.80" y2="384.95" stroke="#666666" stroke-width="2.0" stroke-linecap="butt"/>
<line x1="85.80" y1="373.60" x2="88.80" y2="373.60" stroke="#666666" stroke-width="2.0" stroke-linecap="butt"/>
<line x1="85.80" y1="362.25" x2="88.80" y2="362.25" stroke="#666666" stroke-width="2.0" stroke-linecap="butt"/>
<line x1="85.80" y1="350.90" x2="90.60" y2="350.90" stroke="#666666" stroke-width="2.2" stroke-linecap="butt"/>
<text x="82.60" y="355.55" font-size="13" text-anchor="end" fill="#000000" >20</text>
<line x1="85.80" y1="339.55" x2="88.80" y2="339.55" stroke="#666666" stroke-width="2.0" stroke-linecap="butt"/>
<line x1="85.80" y1="328.20" x2="88.80" y2="328.20" stroke="#666666" stroke-width="2.0" stroke-linecap="butt"/>
<line x1="85.80" y1="316.85" x2="88.80" y2="316.85" stroke="#666666" stroke-width="2.0" stroke-linecap="butt"/>
<line x1="85.80" y1="305.50" x2="90.60" y2="305.50" stroke="#666666" stroke-width="2.2" stroke-linecap="butt"/>
<text x="82.60" y="310.15" font-size="13" text-anchor="end" fill="#000000" >40</text>
<line x1="85.80" y1="294.15" x2="88.80" y2="294.15" stroke="#666666" stroke-width="2.0" stroke-linecap="butt"/>
<line x1="85.80" y1="282.80" x2="88.80" y2="282.80" stroke="#666666" stroke-width="2.0" stroke-linecap="butt"/>
<line x1="85.80" y1="271.45" x2="88.80" y2="271.45" stroke="#666666" stroke-width="2.0" stroke-linecap="butt"/>
<line x1="85.80" y1="260.10" x2="90.60" y2="260.10" stroke="#666666" stroke-width="2.2" stroke-linecap="butt"/>
<text x="82.60" y="264.75" font-size="13" text-anchor="end" fill="#000000" >60</text>
<line x1="85.80" y1="248.75" x2="88.80" y2="248.75" stroke="#666666" stroke-width="2.0" stroke-linecap="butt"/>
<line x1="85.80" y1="237.40" x2="88.80" y2="237.40" stroke="#666666" stroke-width="2.0" stroke-linecap="butt"/>
<line x1="85.80" y1="226.05" x2="88.80" y2="226.05" stroke="#666666" stroke-width="2.0" stroke-linecap="butt"/>
<line x1="85.80" y1="214.70" x2="90.60" y2="214.70" stroke="#666666" stroke-width="2.2" stroke-linecap="butt"/>
<text x="82.60" y="219.35" font-size="13" text-anchor="end" fill="#000000" >80</text>
<line x1="85.80" y1="203.35" x2="88.80" y2="203.35" stroke="#666666" stroke-width="2.0" stroke-linecap="butt"/>
<line x1="85.80" y1="192.00" x2="88.80" y2="192.00" stroke="#666666" stroke-width="2.0" stroke-linecap="butt"/>
<line x1="85.80" y1="180.65" x2="88.80" y2="180.65" stroke="#666666" stroke-width="2.0" stroke-linecap="butt"/>
<line x1="85.80" y1="169.30" x2="90.60" y2="169.30" stroke="#666666" stroke-width="2.2" stroke-linecap="butt"/>
<text x="82.60" y="173.95" font-size="13" text-anchor="end" fill="#000000" >100</text>
<line x1="85.80" y1="157.95" x2="88.80" y2="157.95" stroke="#666666" stroke-width="2.0" stroke-linecap="butt"/>
<line x1="85.80" y1="146.60" x2="88.80" y2="146.60" stroke="#666666" stroke-width="2.0" stroke-linecap="butt"/>
<line x1="85.80" y1="135.25" x2="88.80" y2="135.25" stroke="#666666" stroke-width="2.0" stroke-linecap="butt"/>
<line x1="85.80" y1="123.90" x2="90.60" y2="123.90" stroke="#666666" stroke-width="2.2" stroke-linecap="butt"/>
<text x="82.60" y="128.55" font-size="13" text-anchor="end" fill="#000000" >120</text>
<line x1="85.80" y1="112.55" x2="88.80" y2="112.55" stroke="#666666" stroke-width="2.0" stroke-linecap="butt"/>
<line x1="85.80" y1="101.20" x2="88.80" y2="101.20" stroke="#666666" stroke-width="2.0" stroke-linecap="butt"/>
<line x1="85.80" y1="89.85" x2="88.80" y2="89.85" stroke="#666666" stroke-width="2.0" stroke-linecap="butt"/>
<line x1="85.80" y1="78.50" x2="90.60" y2="78.50" stroke="#666666" stroke-width="2.2" stroke-linecap="butt"/>
<text x="82.60" y="83.15" font-size="13" text-anchor="end" fill="#000000" >140</text>
<line x1="85.80" y1="67.15" x2="88.80" y2="67.15" stroke="#666666" stroke-width="2.0" stroke-linecap="butt"/>
<line x1="85.80" y1="55.80" x2="88.80" y2="55.80" stroke="#666666" stroke-width="2.0" stroke-linecap="butt"/>
<line x1="85.80" y1="44.45" x2="88.80" y2="44.45" stroke="#666666" stroke-width="2.0" stroke-linecap="butt"/>
<line x1="103.07" y1="396.35" x2="103.07" y2="393.30" stroke="#666666" stroke-width="2.0" stroke-linecap="butt"/>
<line x1="157.00" y1="396.35" x2="157.00" y2="391.80" stroke="#666666" stroke-width="2.3" stroke-linecap="butt"/>
<text x="157.00" y="411.40" font-size="13" text-anchor="middle" fill="#000000" >0.865</text>
<line x1="210.93" y1="396.35" x2="210.93" y2="393.30" stroke="#666666" stroke-width="2.0" stroke-linecap="butt"/>
<line x1="264.86" y1="396.35" x2="264.86" y2="393.30" stroke="#666666" stroke-width="2.0" stroke-linecap="butt"/>
<line x1="318.79" y1="396.35" x2="318.79" y2="393.30" stroke="#666666" stroke-width="2.0" stroke-linecap="butt"/>
<line x1="372.72" y1="396.35" x2="372.72" y2="393.30" stroke="#666666" stroke-width="2.0" stroke-linecap="butt"/>
<line x1="426.65" y1="396.35" x2="426.65" y2="391.80" stroke="#666666" stroke-width="2.3" stroke-linecap="butt"/>
<text x="426.65" y="411.40" font-size="13" text-anchor="middle" fill="#000000" >0.870</text>
<line x1="480.58" y1="396.35" x2="480.58" y2="393.30" stroke="#666666" stroke-width="2.0" stroke-linecap="butt"/>
<line x1="534.51" y1="396.35" x2="534.51" y2="393.30" stroke="#666666" stroke-width="2.0" stroke-linecap="butt"/>
<line x1="588.44" y1="396.35" x2="588.44" y2="393.30" stroke="#666666" stroke-width="2.0" stroke-linecap="butt"/>
<line x1="642.37" y1="396.35" x2="642.37" y2="393.30" stroke="#666666" stroke-width="2.0" stroke-linecap="butt"/>
<line x1="696.30" y1="396.35" x2="696.30" y2="391.80" stroke="#666666" stroke-width="2.3" stroke-linecap="butt"/>
<text x="696.30" y="411.40" font-size="13" text-anchor="middle" fill="#000000" >0.875</text>
<line x1="750.23" y1="396.35" x2="750.23" y2="393.30" stroke="#666666" stroke-width="2.0" stroke-linecap="butt"/>
<line x1="804.16" y1="396.35" x2="804.16" y2="393.30" stroke="#666666" stroke-width="2.0" stroke-linecap="butt"/>
<line x1="858.09" y1="396.35" x2="858.09" y2="393.30" stroke="#666666" stroke-width="2.0" stroke-linecap="butt"/>
<line x1="912.02" y1="396.35" x2="912.02" y2="393.30" stroke="#666666" stroke-width="2.0" stroke-linecap="butt"/>
<line x1="965.95" y1="396.35" x2="965.95" y2="391.80" stroke="#666666" stroke-width="2.3" stroke-linecap="butt"/>
<text x="965.95" y="411.40" font-size="13" text-anchor="middle" fill="#000000" >0.880</text>
<line x1="157.00" y1="54.70" x2="157.00" y2="392.70" stroke="#ff8000" stroke-width="2.6" stroke-linecap="butt"/>
<line x1="663.94" y1="54.70" x2="663.94" y2="392.70" stroke="#00ff00" stroke-width="2.6" stroke-linecap="butt"/>
<line x1="858.09" y1="54.70" x2="858.09" y2="392.70" stroke="#996633" stroke-width="2.6" stroke-linecap="butt"/>
<path d="M78.25,31.80 L78.25,20.50 M74.35,24.20 L78.25,20.20 L82.15,24.20" fill="none" stroke="#000" stroke-width="1.4" stroke-linejoin="miter"/>
<text x="90.00" y="31.60" font-size="16" text-anchor="start" fill="#000000" font-style="italic">λ</text>
<text x="97.90" y="30.00" font-size="12" text-anchor="start" fill="#000000" >*</text>
<path d="M983.90,397.40 L994.65,397.40 M991.05,393.70 L994.95,397.40 L991.05,401.10" fill="none" stroke="#000" stroke-width="1.45" stroke-linejoin="miter"/>
<text x="1000.90" y="401.70" font-size="16" text-anchor="start" fill="#000000" >b</text>
<path d="M118.69,593.08 L119.17,585.36 L119.66,578.01 L120.14,571.03 L120.62,564.38 L121.11,558.07 L121.59,552.07 L122.07,546.38 L122.56,540.99 L123.04,535.88 L123.52,531.03 L124.01,526.46 L124.49,522.13 L124.97,518.04 L125.46,514.18 L125.94,510.55 L126.42,507.13 L126.91,503.91 L127.39,500.89 L127.87,498.06 L128.36,495.41 L128.84,492.94 L129.32,490.63 L129.81,488.47 L130.29,486.48 L130.78,484.62 L131.26,482.91 L131.74,481.33 L132.23,479.88 L132.71,478.56 L133.19,477.35 L133.68,476.25 L134.16,475.26 L134.64,474.37 L135.13,473.58 L135.61,472.88 L136.09,472.27 L136.58,471.75 L137.06,471.30 L137.54,470.94 L138.03,470.65 L138.51,470.42 L138.99,470.27 L139.48,470.18 L139.96,470.14 L140.44,470.17 L140.93,470.25 L141.41,470.38 L141.89,470.55 L142.38,470.78 L142.86,471.05 L143.34,471.36 L143.83,471.70 L144.31,472.09 L144.80,472.51 L145.28,472.96 L145.76,473.44 L146.25,473.95 L146.73,474.49 L147.21,475.05 L147.70,475.64 L148.18,476.24 L148.66,476.87 L149.15,477.52 L149.63,478.18 L150.11,478.87 L150.60,479.56 L151.08,480.27 L151.56,480.99 L152.05,481.73 L152.53,482.47 L153.01,483.22 L153.50,483.98 L153.98,484.75 L154.46,485.53 L154.95,486.31 L155.43,487.10 L155.91,487.89 L156.40,488.68 L156.88,489.48 L157.36,490.27 L157.85,491.07 L158.33,491.87 L158.81,492.67 L159.30,493.47 L159.78,494.27 L160.27,495.07 L160.75,495.87 L161.23,496.66 L161.72,497.45 L162.20,498.24 L162.68,499.03 L163.17,499.81 L163.65,500.58 L164.13,501.36 L164.62,502.12 L165.10,502.89 L165.58,503.65 L166.07,504.40 L166.55,505.14 L167.03,505.88 L167.52,506.62 L168.00,507.35 L168.48,508.07 L168.97,508.79 L169.45,509.49 L169.93,510.20 L170.42,510.89 L170.90,511.58 L171.38,512.26 L171.87,512.93 L172.35,513.60 L172.83,514.26 L173.32,514.91 L173.80,515.55 L174.29,516.19 L174.77,516.82 L175.25,517.44 L175.74,518.05 L176.22,518.66 L176.70,519.26 L177.19,519.85 L177.67,520.43 L178.15,521.00 L178.64,521.57 L179.12,522.13 L179.60,522.68 L180.09,523.23 L180.57,523.76 L181.05,524.29 L181.54,524.82 L182.02,525.33 L182.50,525.84 L182.99,526.34 L183.47,526.83 L183.95,527.31 L184.44,527.79 L184.92,528.26 L185.40,528.72 L185.89,529.18 L186.37,529.63 L186.85,530.07 L187.34,530.50 L187.82,530.93 L188.31,531.35 L188.79,531.77 L189.27,532.18 L189.76,532.58 L190.24,532.97 L190.72,533.36 L191.21,533.74 L191.69,534.12 L192.17,534.49 L192.66,534.85 L193.14,535.21 L193.62,535.56 L194.11,535.90 L194.59,536.24 L195.07,536.58 L195.56,536.91 L196.04,537.23 L196.52,537.54 L197.01,537.85 L197.49,538.16 L197.97,538.46 L198.46,538.76 L198.94,539.05 L199.42,539.33 L199.91,539.61 L200.39,539.88 L200.87,540.15 L201.36,540.42 L201.84,540.68 L202.32,540.93 L202.81,541.18 L203.29,541.43 L203.78,541.67 L204.26,541.91 L204.74,542.14 L205.23,542.37 L205.71,542.59 L206.19,542.81 L206.68,543.03 L207.16,543.24 L207.64,543.45 L208.13,543.65 L208.61,543.85 L209.09,544.05 L209.58,544.24 L210.06,544.43 L210.54,544.62 L211.03,544.80 L211.51,544.98 L211.99,545.15 L212.48,545.32 L212.96,545.49 L213.44,545.66 L213.93,545.82 L214.41,545.98 L214.89,546.13 L215.38,546.29 L215.86,546.44 L216.34,546.58 L216.83,546.73 L217.31,546.87 L217.80,547.01 L218.28,547.14 L218.76,547.28 L219.25,547.41 L219.73,547.53 L220.21,547.66 L220.70,547.78 L221.18,547.90 L221.66,548.02 L222.15,548.13 L222.63,548.25 L223.11,548.36 L223.60,548.47 L224.08,548.57 L224.56,548.68 L225.05,548.78 L225.53,548.88 L226.01,548.98 L226.50,549.07 L226.98,549.17 L227.46,549.26 L227.95,549.35 L228.43,549.44 L228.91,549.53 L229.40,549.61 L229.88,549.69 L230.36,549.78 L230.85,549.86 L231.33,549.93 L231.82,550.01 L232.30,550.09 L232.78,550.16 L233.27,550.23 L233.75,550.30 L234.23,550.37 L234.72,550.44 L235.20,550.50 L235.68,550.57 L236.17,550.63 L236.65,550.69 L237.13,550.76 L237.62,550.82 L238.10,550.87 L238.58,550.93 L239.07,550.99 L239.55,551.04 L240.03,551.09 L240.52,551.15 L241.00,551.20 L241.48,551.25 L241.97,551.30 L242.45,551.35 L242.93,551.39 L243.42,551.44 L243.90,551.48 L244.38,551.53 L244.87,551.57 L245.35,551.61 L245.83,551.66 L246.32,551.70 L246.80,551.74 L247.29,551.77 L247.77,551.81 L248.25,551.85 L248.74,551.89 L249.22,551.92 L249.70,551.96 L250.19,551.99 L250.67,552.02 L251.15,552.06 L251.64,552.09 L252.12,552.12 L252.60,552.15 L253.09,552.18 L253.57,552.21 L254.05,552.24 L254.54,552.27 L255.02,552.29 L255.50,552.32 L255.99,552.35 L256.47,552.37 L256.95,552.40 L257.44,552.42 L257.92,552.45 L258.40,552.47 L258.89,552.49 L259.37,552.52 L259.85,552.54 L260.34,552.56 L260.82,552.58 L261.31,552.60 L261.79,552.62 L262.27,552.64 L262.76,552.66 L263.24,552.68 L263.72,552.70 L264.21,552.72 L264.69,552.73 L265.17,552.75 L265.66,552.77 L266.14,552.78 L266.62,552.80 L267.11,552.82 L267.59,552.83 L268.07,552.85 L268.56,552.86 L269.04,552.87 L269.52,552.89 L270.01,552.90 L270.49,552.92 L270.97,552.93 L271.46,552.94 L271.94,552.96 L272.42,552.97 L272.91,552.98 L273.39,552.99 L273.87,553.00 L274.36,553.01 L274.84,553.03 L275.33,553.04 L275.81,553.05 L276.29,553.06 L276.78,553.07 L277.26,553.08 L277.74,553.09 L278.23,553.10 L278.71,553.10 L279.19,553.11 L279.68,553.12 L280.16,553.13 L280.64,553.14 L281.13,553.15 L281.61,553.16 L282.09,553.16 L282.58,553.17 L283.06,553.18 L283.54,553.19 L284.03,553.19 L284.51,553.20 L284.99,553.21 L285.48,553.21 L285.96,553.22 L286.44,553.23 L286.93,553.23 L287.41,553.24 L287.89,553.25 L288.38,553.25 L288.86,553.26 L289.34,553.26 L289.83,553.27 L290.31,553.27 L290.80,553.28 L291.28,553.28 L291.76,553.29 L292.25,553.29 L292.73,553.30 L293.21,553.30 L293.70,553.31 L294.18,553.31 L294.66,553.32 L295.15,553.32 L295.63,553.32 L296.11,553.33 L296.60,553.33 L297.08,553.34 L297.56,553.34 L298.05,553.34 L298.53,553.35 L299.01,553.35 L299.50,553.35 L299.98,553.36 L300.46,553.36 L300.95,553.36 L301.43,553.37 L301.91,553.37 L302.40,553.37 L302.88,553.38 L303.36,553.38 L303.85,553.38 L304.33,553.38 L304.82,553.39 L305.30,553.39 L305.78,553.39 L306.27,553.40 L306.75,553.40 L307.23,553.40 L307.72,553.40 L308.20,553.40 L308.68,553.41 L309.17,553.41 L309.65,553.41 L310.13,553.41 L310.62,553.42 L311.10,553.42" fill="none" stroke="#ff8000" stroke-width="2.2" stroke-linecap="butt" stroke-linejoin="round"/>
<line x1="117.85" y1="553.50" x2="312.10" y2="553.50" stroke="#000" stroke-width="1.35" stroke-linecap="butt"/>
<line x1="116.65" y1="468.40" x2="116.65" y2="596.85" stroke="#666666" stroke-width="2.8" stroke-linecap="butt"/>
<line x1="112.20" y1="595.35" x2="315.50" y2="595.35" stroke="#666666" stroke-width="3.0" stroke-linecap="butt"/>
<line x1="116.65" y1="574.35" x2="118.85" y2="574.35" stroke="#666666" stroke-width="2.0" stroke-linecap="butt"/>
<text x="112.25" y="578.45" font-size="13" text-anchor="end" fill="#000000" >0.0495</text>
<line x1="116.65" y1="553.50" x2="118.85" y2="553.50" stroke="#666666" stroke-width="2.0" stroke-linecap="butt"/>
<text x="112.25" y="557.60" font-size="13" text-anchor="end" fill="#000000" >0.0500</text>
<line x1="116.65" y1="532.65" x2="118.85" y2="532.65" stroke="#666666" stroke-width="2.0" stroke-linecap="butt"/>
<text x="112.25" y="536.75" font-size="13" text-anchor="end" fill="#000000" >0.0505</text>
<line x1="116.65" y1="511.80" x2="118.85" y2="511.80" stroke="#666666" stroke-width="2.0" stroke-linecap="butt"/>
<text x="112.25" y="515.90" font-size="13" text-anchor="end" fill="#000000" >0.0510</text>
<line x1="116.65" y1="490.95" x2="118.85" y2="490.95" stroke="#666666" stroke-width="2.0" stroke-linecap="butt"/>
<text x="112.25" y="495.05" font-size="13" text-anchor="end" fill="#000000" >0.0515</text>
<line x1="116.65" y1="470.10" x2="118.85" y2="470.10" stroke="#666666" stroke-width="2.0" stroke-linecap="butt"/>
<text x="112.25" y="474.20" font-size="13" text-anchor="end" fill="#000000" >0.0520</text>
<line x1="116.65" y1="595.20" x2="118.40" y2="595.20" stroke="#666666" stroke-width="1.2" stroke-linecap="butt"/>
<line x1="116.65" y1="591.03" x2="118.40" y2="591.03" stroke="#666666" stroke-width="1.2" stroke-linecap="butt"/>
<line x1="116.65" y1="586.86" x2="118.40" y2="586.86" stroke="#666666" stroke-width="1.2" stroke-linecap="butt"/>
<line x1="116.65" y1="582.69" x2="118.40" y2="582.69" stroke="#666666" stroke-width="1.2" stroke-linecap="butt"/>
<line x1="116.65" y1="578.52" x2="118.40" y2="578.52" stroke="#666666" stroke-width="1.2" stroke-linecap="butt"/>
<line x1="116.65" y1="574.35" x2="118.40" y2="574.35" stroke="#666666" stroke-width="1.2" stroke-linecap="butt"/>
<line x1="116.65" y1="570.18" x2="118.40" y2="570.18" stroke="#666666" stroke-width="1.2" stroke-linecap="butt"/>
<line x1="116.65" y1="566.01" x2="118.40" y2="566.01" stroke="#666666" stroke-width="1.2" stroke-linecap="butt"/>
<line x1="116.65" y1="561.84" x2="118.40" y2="561.84" stroke="#666666" stroke-width="1.2" stroke-linecap="butt"/>
<line x1="116.65" y1="557.67" x2="118.40" y2="557.67" stroke="#666666" stroke-width="1.2" stroke-linecap="butt"/>
<line x1="116.65" y1="553.50" x2="118.40" y2="553.50" stroke="#666666" stroke-width="1.2" stroke-linecap="butt"/>
<line x1="116.65" y1="549.33" x2="118.40" y2="549.33" stroke="#666666" stroke-width="1.2" stroke-linecap="butt"/>
<line x1="116.65" y1="545.16" x2="118.40" y2="545.16" stroke="#666666" stroke-width="1.2" stroke-linecap="butt"/>
<line x1="116.65" y1="540.99" x2="118.40" y2="540.99" stroke="#666666" stroke-width="1.2" stroke-linecap="butt"/>
<line x1="116.65" y1="536.82" x2="118.40" y2="536.82" stroke="#666666" stroke-width="1.2" stroke-linecap="butt"/>
<line x1="116.65" y1="532.65" x2="118.40" y2="532.65" stroke="#666666" stroke-width="1.2" stroke-linecap="butt"/>
<line x1="116.65" y1="528.48" x2="118.40" y2="528.48" stroke="#666666" stroke-width="1.2" stroke-linecap="butt"/>
<line x1="116.65" y1="524.31" x2="118.40" y2="524.31" stroke="#666666" stroke-width="1.2" stroke-linecap="butt"/>
<line x1="116.65" y1="520.14" x2="118.40" y2="520.14" stroke="#666666" stroke-width="1.2" stroke-linecap="butt"/>
<line x1="116.65" y1="515.97" x2="118.40" y2="515.97" stroke="#666666" stroke-width="1.2" stroke-linecap="butt"/>
<line x1="116.65" y1="511.80" x2="118.40" y2="511.80" stroke="#666666" stroke-width="1.2" stroke-linecap="butt"/>
<line x1="116.65" y1="507.63" x2="118.40" y2="507.63" stroke="#666666" stroke-width="1.2" stroke-linecap="butt"/>
<line x1="116.65" y1="503.46" x2="118.40" y2="503.46" stroke="#666666" stroke-width="1.2" stroke-linecap="butt"/>
<line x1="116.65" y1="499.29" x2="118.40" y2="499.29" stroke="#666666" stroke-width="1.2" stroke-linecap="butt"/>
<line x1="116.65" y1="495.12" x2="118.40" y2="495.12" stroke="#666666" stroke-width="1.2" stroke-linecap="butt"/>
<line x1="116.65" y1="490.95" x2="118.40" y2="490.95" stroke="#666666" stroke-width="1.2" stroke-linecap="butt"/>
<line x1="116.65" y1="486.78" x2="118.40" y2="486.78" stroke="#666666" stroke-width="1.2" stroke-linecap="butt"/>
<line x1="116.65" y1="482.61" x2="118.40" y2="482.61" stroke="#666666" stroke-width="1.2" stroke-linecap="butt"/>
<line x1="116.65" y1="478.44" x2="118.40" y2="478.44" stroke="#666666" stroke-width="1.2" stroke-linecap="butt"/>
<line x1="116.65" y1="474.27" x2="118.40" y2="474.27" stroke="#666666" stroke-width="1.2" stroke-linecap="butt"/>
<line x1="116.65" y1="470.10" x2="118.40" y2="470.10" stroke="#666666" stroke-width="1.2" stroke-linecap="butt"/>
<line x1="116.65" y1="595.30" x2="116.65" y2="593.00" stroke="#666666" stroke-width="2.0" stroke-linecap="butt"/>
<text x="116.65" y="611.00" font-size="13" text-anchor="middle" fill="#000000" >0</text>
<line x1="124.43" y1="595.30" x2="124.43" y2="593.50" stroke="#666666" stroke-width="1.5" stroke-linecap="butt"/>
<line x1="132.21" y1="595.30" x2="132.21" y2="593.50" stroke="#666666" stroke-width="1.5" stroke-linecap="butt"/>
<line x1="139.98" y1="595.30" x2="139.98" y2="593.50" stroke="#666666" stroke-width="1.5" stroke-linecap="butt"/>
<line x1="147.76" y1="595.30" x2="147.76" y2="593.50" stroke="#666666" stroke-width="1.5" stroke-linecap="butt"/>
<line x1="155.54" y1="595.30" x2="155.54" y2="593.00" stroke="#666666" stroke-width="2.0" stroke-linecap="butt"/>
<text x="155.54" y="611.00" font-size="13" text-anchor="middle" fill="#000000" >5</text>
<line x1="163.32" y1="595.30" x2="163.32" y2="593.50" stroke="#666666" stroke-width="1.5" stroke-linecap="butt"/>
<line x1="171.10" y1="595.30" x2="171.10" y2="593.50" stroke="#666666" stroke-width="1.5" stroke-linecap="butt"/>
<line x1="178.87" y1="595.30" x2="178.87" y2="593.50" stroke="#666666" stroke-width="1.5" stroke-linecap="butt"/>
<line x1="186.65" y1="595.30" x2="186.65" y2="593.50" stroke="#666666" stroke-width="1.5" stroke-linecap="butt"/>
<line x1="194.43" y1="595.30" x2="194.43" y2="593.00" stroke="#666666" stroke-width="2.0" stroke-linecap="butt"/>
<text x="194.43" y="611.00" font-size="13" text-anchor="middle" fill="#000000" >10</text>
<line x1="202.21" y1="595.30" x2="202.21" y2="593.50" stroke="#666666" stroke-width="1.5" stroke-linecap="butt"/>
<line x1="209.99" y1="595.30" x2="209.99" y2="593.50" stroke="#666666" stroke-width="1.5" stroke-linecap="butt"/>
<line x1="217.76" y1="595.30" x2="217.76" y2="593.50" stroke="#666666" stroke-width="1.5" stroke-linecap="butt"/>
<line x1="225.54" y1="595.30" x2="225.54" y2="593.50" stroke="#666666" stroke-width="1.5" stroke-linecap="butt"/>
<line x1="233.32" y1="595.30" x2="233.32" y2="593.00" stroke="#666666" stroke-width="2.0" stroke-linecap="butt"/>
<text x="233.32" y="611.00" font-size="13" text-anchor="middle" fill="#000000" >15</text>
<line x1="241.10" y1="595.30" x2="241.10" y2="593.50" stroke="#666666" stroke-width="1.5" stroke-linecap="butt"/>
<line x1="248.88" y1="595.30" x2="248.88" y2="593.50" stroke="#666666" stroke-width="1.5" stroke-linecap="butt"/>
<line x1="256.65" y1="595.30" x2="256.65" y2="593.50" stroke="#666666" stroke-width="1.5" stroke-linecap="butt"/>
<line x1="264.43" y1="595.30" x2="264.43" y2="593.50" stroke="#666666" stroke-width="1.5" stroke-linecap="butt"/>
<line x1="272.21" y1="595.30" x2="272.21" y2="593.00" stroke="#666666" stroke-width="2.0" stroke-linecap="butt"/>
<text x="272.21" y="611.00" font-size="13" text-anchor="middle" fill="#000000" >20</text>
<line x1="279.99" y1="595.30" x2="279.99" y2="593.50" stroke="#666666" stroke-width="1.5" stroke-linecap="butt"/>
<line x1="287.77" y1="595.30" x2="287.77" y2="593.50" stroke="#666666" stroke-width="1.5" stroke-linecap="butt"/>
<line x1="295.54" y1="595.30" x2="295.54" y2="593.50" stroke="#666666" stroke-width="1.5" stroke-linecap="butt"/>
<line x1="303.32" y1="595.30" x2="303.32" y2="593.50" stroke="#666666" stroke-width="1.5" stroke-linecap="butt"/>
<line x1="311.10" y1="595.30" x2="311.10" y2="593.00" stroke="#666666" stroke-width="2.0" stroke-linecap="butt"/>
<text x="311.10" y="611.00" font-size="13" text-anchor="middle" fill="#000000" >25</text>
<path d="M102.40,460.00 L102.40,448.79 M98.60,452.49 L102.40,448.49 L106.20,452.49" fill="none" stroke="#000" stroke-width="1.5" stroke-linejoin="miter"/>
<text x="112.90" y="460.00" font-size="13" text-anchor="start" fill="#000000" >NRP</text>
<path d="M325.90,595.20 L336.51,595.20 M333.21,591.80 L336.81,595.20 L333.21,598.60" fill="none" stroke="#000" stroke-width="1.5" stroke-linejoin="miter"/>
<text x="343.80" y="599.20" font-size="13" text-anchor="start" fill="#000000" font-style="italic">λ</text>
<text x="351.00" y="601.70" font-size="10.5" text-anchor="start" fill="#000000" font-style="italic">o</text>
<line x1="229.20" y1="485.20" x2="253.00" y2="485.20" stroke="#ff8000" stroke-width="2" stroke-linecap="butt"/>
<text x="259.20" y="490.10" font-size="13" text-anchor="start" fill="#000000" >b=0.865</text>
<path d="M443.38,595.50 L443.41,594.94 L443.44,594.38 L443.47,593.82 L443.50,593.26 L443.54,592.69 L443.58,592.13 L443.62,591.57 L443.67,591.01 L443.71,590.45 L443.76,589.89 L443.81,589.33 L443.87,588.77 L443.92,588.21 L443.98,587.65 L444.04,587.09 L444.11,586.52 L444.17,585.96 L444.24,585.40 L444.31,584.84 L444.38,584.28 L444.45,583.72 L444.52,583.16 L444.60,582.60 L444.68,582.04 L444.76,581.48 L444.84,580.92 L444.92,580.36 L445.00,579.80 L445.09,579.24 L445.18,578.68 L445.27,578.12 L445.36,577.57 L445.45,577.01 L445.54,576.45 L445.64,575.89 L445.73,575.33 L445.83,574.78 L445.93,574.22 L446.03,573.66 L446.13,573.10 L446.23,572.55 L446.33,571.99 L446.43,571.43 L446.54,570.88 L446.64,570.32 L446.75,569.77 L446.86,569.21 L446.97,568.66 L447.07,568.10 L447.18,567.55 L447.29,567.00 L447.40,566.44 L447.51,565.89 L447.63,565.34 L447.74,564.79 L447.85,564.23 L447.96,563.68 L448.08,563.13 L448.19,562.58 L448.30,562.03 L448.42,561.48 L448.53,560.93 L448.65,560.39 L448.76,559.84 L448.88,559.29 L448.99,558.74 L449.10,558.20 L449.22,557.65 L449.34,557.11 L449.45,556.56 L449.57,556.01 L449.69,555.47 L449.81,554.93 L449.94,554.38 L450.06,553.84 L450.19,553.29 L450.32,552.75 L450.46,552.21 L450.59,551.66 L450.73,551.12 L450.87,550.57 L451.02,550.03 L451.17,549.49 L451.32,548.94 L451.48,548.40 L451.64,547.86 L451.81,547.31 L451.98,546.77 L452.16,546.22 L452.34,545.68 L452.53,545.13 L452.72,544.59 L452.92,544.04 L453.13,543.50 L453.34,542.95 L453.56,542.41 L453.78,541.87 L454.02,541.33 L454.26,540.80 L454.51,540.27 L454.78,539.75 L455.05,539.24 L455.34,538.74 L455.63,538.26 L455.94,537.78 L456.26,537.32 L456.60,536.87 L456.95,536.43 L457.31,536.02 L457.69,535.62 L458.09,535.24 L458.50,534.88 L458.93,534.55 L459.37,534.23 L459.83,533.94 L460.30,533.67 L460.78,533.42 L461.28,533.20 L461.78,533.00 L462.29,532.82 L462.82,532.67 L463.34,532.54 L463.88,532.44 L464.42,532.36 L464.96,532.31 L465.51,532.29 L466.05,532.30 L466.60,532.32 L467.15,532.37 L467.70,532.45 L468.25,532.54 L468.80,532.65 L469.35,532.78 L469.91,532.93 L470.46,533.09 L471.00,533.26 L471.55,533.45 L472.10,533.64 L472.64,533.85 L473.18,534.06 L473.72,534.28 L474.26,534.50 L474.79,534.73 L475.32,534.95 L475.84,535.18 L476.36,535.41 L476.88,535.64 L477.40,535.87 L477.92,536.10 L478.43,536.33 L478.95,536.56 L479.47,536.78 L479.98,537.01 L480.50,537.23 L481.02,537.44 L481.55,537.66 L482.07,537.87 L482.60,538.07 L483.12,538.28 L483.65,538.48 L484.19,538.67 L484.72,538.86 L485.25,539.05 L485.79,539.23 L486.33,539.41 L486.87,539.59 L487.41,539.76 L487.95,539.93 L488.50,540.09 L489.04,540.24 L489.59,540.40 L490.13,540.54 L490.68,540.68 L491.23,540.82 L491.78,540.95 L492.33,541.08 L492.88,541.20 L493.44,541.32 L493.99,541.42 L494.55,541.53 L495.10,541.63 L495.66,541.72 L496.21,541.80 L496.77,541.88 L497.33,541.96 L497.89,542.03 L498.44,542.09 L499.00,542.14 L499.56,542.19 L500.12,542.23 L500.68,542.26 L501.24,542.29 L501.80,542.31 L502.36,542.33 L502.92,542.33 L503.48,542.34 L504.04,542.33 L504.60,542.33 L505.16,542.31 L505.72,542.30 L506.28,542.27 L506.84,542.25 L507.40,542.22 L507.96,542.18 L508.52,542.14 L509.08,542.10 L509.64,542.06 L510.21,542.01 L510.77,541.95 L511.33,541.90 L511.89,541.84 L512.45,541.78 L513.01,541.72 L513.57,541.66 L514.13,541.60 L514.70,541.53 L515.26,541.46 L515.82,541.39 L516.38,541.32 L516.94,541.26 L517.50,541.19 L518.06,541.12 L518.62,541.05 L519.19,540.98 L519.75,540.91 L520.31,540.84 L520.87,540.77 L521.43,540.70 L521.99,540.63 L522.55,540.56 L523.11,540.49 L523.67,540.42 L524.23,540.35 L524.80,540.28 L525.36,540.21 L525.92,540.14 L526.48,540.07 L527.04,540.00 L527.60,539.93 L528.16,539.86 L528.72,539.79 L529.28,539.72 L529.84,539.65 L530.40,539.58 L530.96,539.51 L531.52,539.45 L532.08,539.38 L532.64,539.31 L533.20,539.24 L533.76,539.17 L534.32,539.10 L534.89,539.04 L535.45,538.97 L536.01,538.90 L536.57,538.83 L537.13,538.77 L537.69,538.70 L538.25,538.63 L538.81,538.56 L539.37,538.50 L539.93,538.43 L540.49,538.36 L541.05,538.30 L541.61,538.23 L542.17,538.17 L542.73,538.10 L543.29,538.04 L543.85,537.97 L544.41,537.91 L544.97,537.84 L545.53,537.78 L546.09,537.71 L546.65,537.65 L547.21,537.59 L547.77,537.52 L548.33,537.46 L548.89,537.40 L549.45,537.33 L550.01,537.27 L550.57,537.21 L551.13,537.15 L551.69,537.09 L552.25,537.03 L552.81,536.96 L553.37,536.90 L553.94,536.84 L554.50,536.78 L555.06,536.72 L555.62,536.66 L556.18,536.61 L556.74,536.55 L557.30,536.49 L557.86,536.43 L558.42,536.37 L558.98,536.32 L559.54,536.26 L560.10,536.20 L560.66,536.15 L561.22,536.09 L561.78,536.03 L562.34,535.98 L562.90,535.92 L563.46,535.87 L564.02,535.82 L564.58,535.76 L565.15,535.71 L565.71,535.66 L566.27,535.60 L566.83,535.55 L567.39,535.50 L567.95,535.45 L568.51,535.40 L569.07,535.35 L569.63,535.30 L570.19,535.25 L570.75,535.20 L571.32,535.15 L571.88,535.11 L572.44,535.06 L573.00,535.01 L573.56,534.97 L574.12,534.92 L574.68,534.87 L575.24,534.83 L575.81,534.78 L576.37,534.74 L576.93,534.70 L577.49,534.65 L578.05,534.61 L578.61,534.57 L579.17,534.53 L579.74,534.49 L580.30,534.45 L580.86,534.41 L581.42,534.37 L581.98,534.33 L582.55,534.29 L583.11,534.25 L583.67,534.22 L584.23,534.18 L584.79,534.14 L585.36,534.11 L585.92,534.07 L586.48,534.04 L587.04,534.01 L587.61,533.97 L588.17,533.94 L588.73,533.91 L589.29,533.88 L589.86,533.85 L590.42,533.82 L590.98,533.79 L591.54,533.76 L592.11,533.73 L592.67,533.71 L593.23,533.68 L593.80,533.65 L594.36,533.63 L594.92,533.60 L595.49,533.58 L596.05,533.56 L596.61,533.53 L597.18,533.51 L597.74,533.49 L598.30,533.47 L598.87,533.45 L599.43,533.43 L600.00,533.41 L600.56,533.40 L601.12,533.38 L601.69,533.36 L602.25,533.35 L602.82,533.33 L603.38,533.32 L603.95,533.31 L604.51,533.29 L605.08,533.28 L605.64,533.27 L606.21,533.26 L606.77,533.25 L607.34,533.24 L607.90,533.23 L608.47,533.23 L609.03,533.22 L609.60,533.22 L610.16,533.21 L610.73,533.21 L611.29,533.20 L611.86,533.20 L612.42,533.20 L612.99,533.20 L613.56,533.20 L614.12,533.20 L614.69,533.20 L615.26,533.20 L615.82,533.21 L616.39,533.21 L616.95,533.22 L617.52,533.22" fill="none" stroke="#00ff00" stroke-width="2.2" stroke-linecap="butt" stroke-linejoin="round"/>
<line x1="423.10" y1="532.55" x2="617.35" y2="532.55" stroke="#000" stroke-width="1.35" stroke-linecap="butt"/>
<line x1="421.90" y1="468.40" x2="421.90" y2="596.85" stroke="#666666" stroke-width="2.5" stroke-linecap="butt"/>
<line x1="417.50" y1="595.35" x2="620.90" y2="595.35" stroke="#666666" stroke-width="3.0" stroke-linecap="butt"/>
<line x1="421.90" y1="582.95" x2="423.95" y2="582.95" stroke="#666666" stroke-width="2.0" stroke-linecap="butt"/>
<text x="418.45" y="587.65" font-size="13" text-anchor="end" fill="#000000" >0.0496</text>
<line x1="421.90" y1="557.75" x2="423.95" y2="557.75" stroke="#666666" stroke-width="2.0" stroke-linecap="butt"/>
<text x="418.45" y="562.45" font-size="13" text-anchor="end" fill="#000000" >0.0498</text>
<line x1="421.90" y1="532.55" x2="423.95" y2="532.55" stroke="#666666" stroke-width="2.0" stroke-linecap="butt"/>
<text x="418.45" y="537.25" font-size="13" text-anchor="end" fill="#000000" >0.0500</text>
<line x1="421.90" y1="507.35" x2="423.95" y2="507.35" stroke="#666666" stroke-width="2.0" stroke-linecap="butt"/>
<text x="418.45" y="512.05" font-size="13" text-anchor="end" fill="#000000" >0.0502</text>
<line x1="421.90" y1="482.15" x2="423.95" y2="482.15" stroke="#666666" stroke-width="2.0" stroke-linecap="butt"/>
<text x="418.45" y="486.85" font-size="13" text-anchor="end" fill="#000000" >0.0504</text>
<line x1="421.90" y1="589.25" x2="423.50" y2="589.25" stroke="#666666" stroke-width="1.2" stroke-linecap="butt"/>
<line x1="421.90" y1="582.95" x2="423.50" y2="582.95" stroke="#666666" stroke-width="1.2" stroke-linecap="butt"/>
<line x1="421.90" y1="576.65" x2="423.50" y2="576.65" stroke="#666666" stroke-width="1.2" stroke-linecap="butt"/>
<line x1="421.90" y1="570.35" x2="423.50" y2="570.35" stroke="#666666" stroke-width="1.2" stroke-linecap="butt"/>
<line x1="421.90" y1="564.05" x2="423.50" y2="564.05" stroke="#666666" stroke-width="1.2" stroke-linecap="butt"/>
<line x1="421.90" y1="557.75" x2="423.50" y2="557.75" stroke="#666666" stroke-width="1.2" stroke-linecap="butt"/>
<line x1="421.90" y1="551.45" x2="423.50" y2="551.45" stroke="#666666" stroke-width="1.2" stroke-linecap="butt"/>
<line x1="421.90" y1="545.15" x2="423.50" y2="545.15" stroke="#666666" stroke-width="1.2" stroke-linecap="butt"/>
<line x1="421.90" y1="538.85" x2="423.50" y2="538.85" stroke="#666666" stroke-width="1.2" stroke-linecap="butt"/>
<line x1="421.90" y1="532.55" x2="423.50" y2="532.55" stroke="#666666" stroke-width="1.2" stroke-linecap="butt"/>
<line x1="421.90" y1="526.25" x2="423.50" y2="526.25" stroke="#666666" stroke-width="1.2" stroke-linecap="butt"/>
<line x1="421.90" y1="519.95" x2="423.50" y2="519.95" stroke="#666666" stroke-width="1.2" stroke-linecap="butt"/>
<line x1="421.90" y1="513.65" x2="423.50" y2="513.65" stroke="#666666" stroke-width="1.2" stroke-linecap="butt"/>
<line x1="421.90" y1="507.35" x2="423.50" y2="507.35" stroke="#666666" stroke-width="1.2" stroke-linecap="butt"/>
<line x1="421.90" y1="501.05" x2="423.50" y2="501.05" stroke="#666666" stroke-width="1.2" stroke-linecap="butt"/>
<line x1="421.90" y1="494.75" x2="423.50" y2="494.75" stroke="#666666" stroke-width="1.2" stroke-linecap="butt"/>
<line x1="421.90" y1="488.45" x2="423.50" y2="488.45" stroke="#666666" stroke-width="1.2" stroke-linecap="butt"/>
<line x1="421.90" y1="482.15" x2="423.50" y2="482.15" stroke="#666666" stroke-width="1.2" stroke-linecap="butt"/>
<line x1="421.90" y1="475.85" x2="423.50" y2="475.85" stroke="#666666" stroke-width="1.2" stroke-linecap="butt"/>
<line x1="421.90" y1="469.55" x2="423.50" y2="469.55" stroke="#666666" stroke-width="1.2" stroke-linecap="butt"/>
<line x1="421.90" y1="595.30" x2="421.90" y2="593.00" stroke="#666666" stroke-width="2.0" stroke-linecap="butt"/>
<text x="421.90" y="611.00" font-size="13" text-anchor="middle" fill="#000000" >0</text>
<line x1="429.68" y1="595.30" x2="429.68" y2="593.50" stroke="#666666" stroke-width="1.5" stroke-linecap="butt"/>
<line x1="437.46" y1="595.30" x2="437.46" y2="593.50" stroke="#666666" stroke-width="1.5" stroke-linecap="butt"/>
<line x1="445.23" y1="595.30" x2="445.23" y2="593.50" stroke="#666666" stroke-width="1.5" stroke-linecap="butt"/>
<line x1="453.01" y1="595.30" x2="453.01" y2="593.50" stroke="#666666" stroke-width="1.5" stroke-linecap="butt"/>
<line x1="460.79" y1="595.30" x2="460.79" y2="593.00" stroke="#666666" stroke-width="2.0" stroke-linecap="butt"/>
<text x="460.79" y="611.00" font-size="13" text-anchor="middle" fill="#000000" >5</text>
<line x1="468.57" y1="595.30" x2="468.57" y2="593.50" stroke="#666666" stroke-width="1.5" stroke-linecap="butt"/>
<line x1="476.35" y1="595.30" x2="476.35" y2="593.50" stroke="#666666" stroke-width="1.5" stroke-linecap="butt"/>
<line x1="484.12" y1="595.30" x2="484.12" y2="593.50" stroke="#666666" stroke-width="1.5" stroke-linecap="butt"/>
<line x1="491.90" y1="595.30" x2="491.90" y2="593.50" stroke="#666666" stroke-width="1.5" stroke-linecap="butt"/>
<line x1="499.68" y1="595.30" x2="499.68" y2="593.00" stroke="#666666" stroke-width="2.0" stroke-linecap="butt"/>
<text x="499.68" y="611.00" font-size="13" text-anchor="middle" fill="#000000" >10</text>
<line x1="507.46" y1="595.30" x2="507.46" y2="593.50" stroke="#666666" stroke-width="1.5" stroke-linecap="butt"/>
<line x1="515.24" y1="595.30" x2="515.24" y2="593.50" stroke="#666666" stroke-width="1.5" stroke-linecap="butt"/>
<line x1="523.01" y1="595.30" x2="523.01" y2="593.50" stroke="#666666" stroke-width="1.5" stroke-linecap="butt"/>
<line x1="530.79" y1="595.30" x2="530.79" y2="593.50" stroke="#666666" stroke-width="1.5" stroke-linecap="butt"/>
<line x1="538.57" y1="595.30" x2="538.57" y2="593.00" stroke="#666666" stroke-width="2.0" stroke-linecap="butt"/>
<text x="538.57" y="611.00" font-size="13" text-anchor="middle" fill="#000000" >15</text>
<line x1="546.35" y1="595.30" x2="546.35" y2="593.50" stroke="#666666" stroke-width="1.5" stroke-linecap="butt"/>
<line x1="554.13" y1="595.30" x2="554.13" y2="593.50" stroke="#666666" stroke-width="1.5" stroke-linecap="butt"/>
<line x1="561.90" y1="595.30" x2="561.90" y2="593.50" stroke="#666666" stroke-width="1.5" stroke-linecap="butt"/>
<line x1="569.68" y1="595.30" x2="569.68" y2="593.50" stroke="#666666" stroke-width="1.5" stroke-linecap="butt"/>
<line x1="577.46" y1="595.30" x2="577.46" y2="593.00" stroke="#666666" stroke-width="2.0" stroke-linecap="butt"/>
<text x="577.46" y="611.00" font-size="13" text-anchor="middle" fill="#000000" >20</text>
<line x1="585.24" y1="595.30" x2="585.24" y2="593.50" stroke="#666666" stroke-width="1.5" stroke-linecap="butt"/>
<line x1="593.02" y1="595.30" x2="593.02" y2="593.50" stroke="#666666" stroke-width="1.5" stroke-linecap="butt"/>
<line x1="600.79" y1="595.30" x2="600.79" y2="593.50" stroke="#666666" stroke-width="1.5" stroke-linecap="butt"/>
<line x1="608.57" y1="595.30" x2="608.57" y2="593.50" stroke="#666666" stroke-width="1.5" stroke-linecap="butt"/>
<line x1="616.35" y1="595.30" x2="616.35" y2="593.00" stroke="#666666" stroke-width="2.0" stroke-linecap="butt"/>
<text x="616.35" y="611.00" font-size="13" text-anchor="middle" fill="#000000" >25</text>
<path d="M407.90,460.00 L407.90,448.79 M404.10,452.49 L407.90,448.49 L411.70,452.49" fill="none" stroke="#000" stroke-width="1.5" stroke-linejoin="miter"/>
<text x="418.20" y="460.00" font-size="13" text-anchor="start" fill="#000000" >NRP</text>
<path d="M631.20,595.20 L641.81,595.20 M638.51,591.80 L642.11,595.20 L638.51,598.60" fill="none" stroke="#000" stroke-width="1.5" stroke-linejoin="miter"/>
<text x="649.60" y="599.20" font-size="13" text-anchor="start" fill="#000000" font-style="italic">λ</text>
<text x="656.80" y="601.70" font-size="10.5" text-anchor="start" fill="#000000" font-style="italic">o</text>
<line x1="527.90" y1="485.20" x2="551.70" y2="485.20" stroke="#00ff00" stroke-width="2" stroke-linecap="butt"/>
<text x="557.90" y="490.10" font-size="13" text-anchor="start" fill="#000000" >b=0.8744</text>
<path d="M755.24,595.45 L755.38,594.97 L755.52,594.49 L755.66,594.01 L755.81,593.53 L755.95,593.05 L756.09,592.56 L756.23,592.08 L756.37,591.59 L756.51,591.11 L756.65,590.62 L756.79,590.13 L756.93,589.64 L757.08,589.15 L757.22,588.66 L757.36,588.17 L757.50,587.68 L757.64,587.19 L757.79,586.70 L757.93,586.21 L758.08,585.71 L758.22,585.22 L758.37,584.73 L758.51,584.23 L758.66,583.74 L758.81,583.25 L758.96,582.75 L759.11,582.26 L759.26,581.76 L759.41,581.27 L759.57,580.78 L759.72,580.28 L759.88,579.79 L760.04,579.30 L760.20,578.80 L760.36,578.31 L760.52,577.82 L760.68,577.33 L760.85,576.84 L761.02,576.35 L761.19,575.86 L761.36,575.37 L761.53,574.88 L761.70,574.39 L761.88,573.90 L762.06,573.42 L762.24,572.93 L762.43,572.45 L762.61,571.96 L762.80,571.48 L762.99,571.00 L763.19,570.52 L763.38,570.04 L763.58,569.57 L763.79,569.09 L763.99,568.62 L764.20,568.15 L764.41,567.68 L764.62,567.21 L764.84,566.74 L765.06,566.28 L765.29,565.81 L765.51,565.35 L765.74,564.90 L765.98,564.44 L766.22,563.99 L766.46,563.53 L766.70,563.08 L766.95,562.64 L767.21,562.19 L767.46,561.75 L767.72,561.31 L767.99,560.88 L768.26,560.44 L768.53,560.01 L768.81,559.58 L769.09,559.16 L769.37,558.74 L769.66,558.32 L769.95,557.90 L770.25,557.49 L770.55,557.07 L770.85,556.67 L771.16,556.26 L771.47,555.86 L771.79,555.46 L772.11,555.07 L772.43,554.68 L772.76,554.29 L773.09,553.90 L773.42,553.52 L773.76,553.14 L774.10,552.77 L774.45,552.39 L774.80,552.03 L775.15,551.66 L775.51,551.30 L775.87,550.94 L776.24,550.59 L776.61,550.24 L776.98,549.89 L777.35,549.55 L777.73,549.21 L778.12,548.87 L778.50,548.54 L778.89,548.21 L779.28,547.88 L779.68,547.56 L780.07,547.24 L780.47,546.92 L780.88,546.60 L781.28,546.29 L781.69,545.98 L782.10,545.68 L782.51,545.37 L782.93,545.07 L783.35,544.78 L783.77,544.48 L784.19,544.19 L784.61,543.90 L785.03,543.61 L785.46,543.32 L785.89,543.04 L786.31,542.76 L786.74,542.48 L787.18,542.20 L787.61,541.93 L788.04,541.66 L788.48,541.39 L788.92,541.12 L789.35,540.85 L789.79,540.59 L790.23,540.33 L790.67,540.06 L791.12,539.81 L791.56,539.55 L792.01,539.30 L792.45,539.04 L792.90,538.79 L793.35,538.54 L793.80,538.30 L794.25,538.05 L794.70,537.81 L795.15,537.57 L795.61,537.33 L796.06,537.09 L796.52,536.86 L796.98,536.62 L797.43,536.39 L797.89,536.16 L798.35,535.93 L798.81,535.70 L799.27,535.47 L799.74,535.25 L800.20,535.03 L800.66,534.81 L801.13,534.59 L801.60,534.37 L802.06,534.15 L802.53,533.94 L803.00,533.72 L803.47,533.51 L803.94,533.30 L804.41,533.09 L804.88,532.88 L805.35,532.68 L805.82,532.47 L806.29,532.27 L806.77,532.06 L807.24,531.86 L807.72,531.66 L808.19,531.46 L808.67,531.27 L809.15,531.07 L809.62,530.87 L810.10,530.68 L810.58,530.49 L811.06,530.30 L811.54,530.11 L812.02,529.92 L812.50,529.73 L812.98,529.54 L813.46,529.35 L813.94,529.17 L814.42,528.98 L814.90,528.80 L815.38,528.62 L815.87,528.44 L816.35,528.26 L816.83,528.08 L817.31,527.90 L817.80,527.72 L818.28,527.54 L818.77,527.37 L819.25,527.19 L819.73,527.01 L820.22,526.84 L820.70,526.67 L821.19,526.49 L821.67,526.32 L822.16,526.15 L822.64,525.98 L823.13,525.81 L823.61,525.64 L824.10,525.48 L824.59,525.31 L825.07,525.14 L825.56,524.98 L826.04,524.81 L826.53,524.65 L827.02,524.49 L827.51,524.33 L827.99,524.17 L828.48,524.01 L828.97,523.85 L829.46,523.69 L829.94,523.53 L830.43,523.38 L830.92,523.22 L831.41,523.07 L831.90,522.91 L832.39,522.76 L832.88,522.61 L833.37,522.46 L833.86,522.31 L834.35,522.16 L834.84,522.01 L835.33,521.87 L835.82,521.72 L836.31,521.58 L836.80,521.44 L837.29,521.29 L837.78,521.15 L838.27,521.01 L838.77,520.87 L839.26,520.74 L839.75,520.60 L840.24,520.46 L840.74,520.33 L841.23,520.20 L841.72,520.06 L842.22,519.93 L842.71,519.80 L843.21,519.67 L843.70,519.55 L844.20,519.42 L844.69,519.30 L845.19,519.17 L845.68,519.05 L846.18,518.93 L846.67,518.81 L847.17,518.69 L847.67,518.57 L848.16,518.45 L848.66,518.34 L849.16,518.22 L849.66,518.11 L850.15,518.00 L850.65,517.89 L851.15,517.78 L851.65,517.67 L852.15,517.57 L852.65,517.46 L853.15,517.36 L853.65,517.25 L854.15,517.15 L854.65,517.05 L855.15,516.96 L855.65,516.86 L856.15,516.76 L856.65,516.67 L857.16,516.58 L857.66,516.48 L858.16,516.39 L858.67,516.31 L859.17,516.22 L859.67,516.13 L860.18,516.05 L860.68,515.97 L861.19,515.89 L861.69,515.81 L862.20,515.73 L862.70,515.65 L863.21,515.57 L863.71,515.50 L864.22,515.43 L864.73,515.35 L865.23,515.28 L865.74,515.21 L866.25,515.15 L866.76,515.08 L867.26,515.01 L867.77,514.95 L868.28,514.89 L868.79,514.82 L869.30,514.76 L869.81,514.70 L870.32,514.64 L870.83,514.59 L871.34,514.53 L871.85,514.47 L872.36,514.42 L872.87,514.37 L873.38,514.32 L873.89,514.26 L874.40,514.21 L874.91,514.16 L875.42,514.12 L875.93,514.07 L876.45,514.02 L876.96,513.98 L877.47,513.93 L877.98,513.89 L878.49,513.85 L879.01,513.80 L879.52,513.76 L880.03,513.72 L880.54,513.68 L881.06,513.65 L881.57,513.61 L882.08,513.57 L882.60,513.53 L883.11,513.50 L883.62,513.46 L884.14,513.43 L884.65,513.40 L885.16,513.36 L885.68,513.33 L886.19,513.30 L886.71,513.27 L887.22,513.24 L887.73,513.21 L888.25,513.18 L888.76,513.15 L889.28,513.12 L889.79,513.10 L890.31,513.07 L890.82,513.04 L891.33,513.02 L891.85,512.99 L892.36,512.97 L892.88,512.94 L893.39,512.92 L893.91,512.89 L894.42,512.87 L894.94,512.85 L895.45,512.83 L895.96,512.80 L896.48,512.78 L896.99,512.76 L897.51,512.74 L898.02,512.72 L898.54,512.70 L899.05,512.68 L899.56,512.66 L900.08,512.64 L900.59,512.62 L901.11,512.60 L901.62,512.58 L902.13,512.56 L902.65,512.54 L903.16,512.52 L903.68,512.50 L904.19,512.48 L904.70,512.46 L905.22,512.45 L905.73,512.43 L906.24,512.41 L906.75,512.39 L907.27,512.37 L907.78,512.35 L908.29,512.33 L908.81,512.32 L909.32,512.30 L909.83,512.28 L910.34,512.26 L910.85,512.24 L911.37,512.22 L911.88,512.20 L912.39,512.18 L912.90,512.16 L913.41,512.14 L913.92,512.12 L914.43,512.10 L914.94,512.08 L915.45,512.06 L915.96,512.04 L916.47,512.02 L916.98,512.00 L917.49,511.98 L918.00,511.96 L918.51,511.93 L919.02,511.91 L919.53,511.89 L920.04,511.86 L920.54,511.84 L921.05,511.82 L921.56,511.79 L922.07,511.77 L922.57,511.74" fill="none" stroke="#996633" stroke-width="2.2" stroke-linecap="butt" stroke-linejoin="round"/>
<line x1="728.60" y1="511.60" x2="922.85" y2="511.60" stroke="#000" stroke-width="1.35" stroke-linecap="butt"/>
<line x1="727.40" y1="468.40" x2="727.40" y2="596.85" stroke="#666666" stroke-width="2.6" stroke-linecap="butt"/>
<line x1="723.00" y1="595.35" x2="926.50" y2="595.35" stroke="#666666" stroke-width="3.0" stroke-linecap="butt"/>
<line x1="727.40" y1="578.60" x2="729.50" y2="578.60" stroke="#666666" stroke-width="2.0" stroke-linecap="butt"/>
<text x="723.50" y="583.30" font-size="13" text-anchor="end" fill="#000000" >0.0492</text>
<line x1="727.40" y1="561.85" x2="729.50" y2="561.85" stroke="#666666" stroke-width="2.0" stroke-linecap="butt"/>
<text x="723.50" y="566.55" font-size="13" text-anchor="end" fill="#000000" >0.0494</text>
<line x1="727.40" y1="545.10" x2="729.50" y2="545.10" stroke="#666666" stroke-width="2.0" stroke-linecap="butt"/>
<text x="723.50" y="549.80" font-size="13" text-anchor="end" fill="#000000" >0.0496</text>
<line x1="727.40" y1="528.35" x2="729.50" y2="528.35" stroke="#666666" stroke-width="2.0" stroke-linecap="butt"/>
<text x="723.50" y="533.05" font-size="13" text-anchor="end" fill="#000000" >0.0498</text>
<line x1="727.40" y1="511.60" x2="729.50" y2="511.60" stroke="#666666" stroke-width="2.0" stroke-linecap="butt"/>
<text x="723.50" y="516.30" font-size="13" text-anchor="end" fill="#000000" >0.0500</text>
<line x1="727.40" y1="494.85" x2="729.50" y2="494.85" stroke="#666666" stroke-width="2.0" stroke-linecap="butt"/>
<text x="723.50" y="499.55" font-size="13" text-anchor="end" fill="#000000" >0.0502</text>
<line x1="727.40" y1="478.10" x2="729.50" y2="478.10" stroke="#666666" stroke-width="2.0" stroke-linecap="butt"/>
<text x="723.50" y="482.80" font-size="13" text-anchor="end" fill="#000000" >0.0504</text>
<line x1="727.40" y1="591.16" x2="729.05" y2="591.16" stroke="#666666" stroke-width="1.2" stroke-linecap="butt"/>
<line x1="727.40" y1="586.97" x2="729.05" y2="586.97" stroke="#666666" stroke-width="1.2" stroke-linecap="butt"/>
<line x1="727.40" y1="582.79" x2="729.05" y2="582.79" stroke="#666666" stroke-width="1.2" stroke-linecap="butt"/>
<line x1="727.40" y1="578.60" x2="729.05" y2="578.60" stroke="#666666" stroke-width="1.2" stroke-linecap="butt"/>
<line x1="727.40" y1="574.41" x2="729.05" y2="574.41" stroke="#666666" stroke-width="1.2" stroke-linecap="butt"/>
<line x1="727.40" y1="570.22" x2="729.05" y2="570.22" stroke="#666666" stroke-width="1.2" stroke-linecap="butt"/>
<line x1="727.40" y1="566.04" x2="729.05" y2="566.04" stroke="#666666" stroke-width="1.2" stroke-linecap="butt"/>
<line x1="727.40" y1="561.85" x2="729.05" y2="561.85" stroke="#666666" stroke-width="1.2" stroke-linecap="butt"/>
<line x1="727.40" y1="557.66" x2="729.05" y2="557.66" stroke="#666666" stroke-width="1.2" stroke-linecap="butt"/>
<line x1="727.40" y1="553.48" x2="729.05" y2="553.48" stroke="#666666" stroke-width="1.2" stroke-linecap="butt"/>
<line x1="727.40" y1="549.29" x2="729.05" y2="549.29" stroke="#666666" stroke-width="1.2" stroke-linecap="butt"/>
<line x1="727.40" y1="545.10" x2="729.05" y2="545.10" stroke="#666666" stroke-width="1.2" stroke-linecap="butt"/>
<line x1="727.40" y1="540.91" x2="729.05" y2="540.91" stroke="#666666" stroke-width="1.2" stroke-linecap="butt"/>
<line x1="727.40" y1="536.73" x2="729.05" y2="536.73" stroke="#666666" stroke-width="1.2" stroke-linecap="butt"/>
<line x1="727.40" y1="532.54" x2="729.05" y2="532.54" stroke="#666666" stroke-width="1.2" stroke-linecap="butt"/>
<line x1="727.40" y1="528.35" x2="729.05" y2="528.35" stroke="#666666" stroke-width="1.2" stroke-linecap="butt"/>
<line x1="727.40" y1="524.16" x2="729.05" y2="524.16" stroke="#666666" stroke-width="1.2" stroke-linecap="butt"/>
<line x1="727.40" y1="519.98" x2="729.05" y2="519.98" stroke="#666666" stroke-width="1.2" stroke-linecap="butt"/>
<line x1="727.40" y1="515.79" x2="729.05" y2="515.79" stroke="#666666" stroke-width="1.2" stroke-linecap="butt"/>
<line x1="727.40" y1="511.60" x2="729.05" y2="511.60" stroke="#666666" stroke-width="1.2" stroke-linecap="butt"/>
<line x1="727.40" y1="507.41" x2="729.05" y2="507.41" stroke="#666666" stroke-width="1.2" stroke-linecap="butt"/>
<line x1="727.40" y1="503.22" x2="729.05" y2="503.22" stroke="#666666" stroke-width="1.2" stroke-linecap="butt"/>
<line x1="727.40" y1="499.04" x2="729.05" y2="499.04" stroke="#666666" stroke-width="1.2" stroke-linecap="butt"/>
<line x1="727.40" y1="494.85" x2="729.05" y2="494.85" stroke="#666666" stroke-width="1.2" stroke-linecap="butt"/>
<line x1="727.40" y1="490.66" x2="729.05" y2="490.66" stroke="#666666" stroke-width="1.2" stroke-linecap="butt"/>
<line x1="727.40" y1="486.47" x2="729.05" y2="486.47" stroke="#666666" stroke-width="1.2" stroke-linecap="butt"/>
<line x1="727.40" y1="482.29" x2="729.05" y2="482.29" stroke="#666666" stroke-width="1.2" stroke-linecap="butt"/>
<line x1="727.40" y1="478.10" x2="729.05" y2="478.10" stroke="#666666" stroke-width="1.2" stroke-linecap="butt"/>
<line x1="727.40" y1="473.91" x2="729.05" y2="473.91" stroke="#666666" stroke-width="1.2" stroke-linecap="butt"/>
<line x1="727.40" y1="469.72" x2="729.05" y2="469.72" stroke="#666666" stroke-width="1.2" stroke-linecap="butt"/>
<line x1="727.40" y1="595.30" x2="727.40" y2="593.00" stroke="#666666" stroke-width="2.0" stroke-linecap="butt"/>
<text x="727.40" y="611.00" font-size="13" text-anchor="middle" fill="#000000" >0</text>
<line x1="735.18" y1="595.30" x2="735.18" y2="593.50" stroke="#666666" stroke-width="1.5" stroke-linecap="butt"/>
<line x1="742.96" y1="595.30" x2="742.96" y2="593.50" stroke="#666666" stroke-width="1.5" stroke-linecap="butt"/>
<line x1="750.73" y1="595.30" x2="750.73" y2="593.50" stroke="#666666" stroke-width="1.5" stroke-linecap="butt"/>
<line x1="758.51" y1="595.30" x2="758.51" y2="593.50" stroke="#666666" stroke-width="1.5" stroke-linecap="butt"/>
<line x1="766.29" y1="595.30" x2="766.29" y2="593.00" stroke="#666666" stroke-width="2.0" stroke-linecap="butt"/>
<text x="766.29" y="611.00" font-size="13" text-anchor="middle" fill="#000000" >5</text>
<line x1="774.07" y1="595.30" x2="774.07" y2="593.50" stroke="#666666" stroke-width="1.5" stroke-linecap="butt"/>
<line x1="781.85" y1="595.30" x2="781.85" y2="593.50" stroke="#666666" stroke-width="1.5" stroke-linecap="butt"/>
<line x1="789.62" y1="595.30" x2="789.62" y2="593.50" stroke="#666666" stroke-width="1.5" stroke-linecap="butt"/>
<line x1="797.40" y1="595.30" x2="797.40" y2="593.50" stroke="#666666" stroke-width="1.5" stroke-linecap="butt"/>
<line x1="805.18" y1="595.30" x2="805.18" y2="593.00" stroke="#666666" stroke-width="2.0" stroke-linecap="butt"/>
<text x="805.18" y="611.00" font-size="13" text-anchor="middle" fill="#000000" >10</text>
<line x1="812.96" y1="595.30" x2="812.96" y2="593.50" stroke="#666666" stroke-width="1.5" stroke-linecap="butt"/>
<line x1="820.74" y1="595.30" x2="820.74" y2="593.50" stroke="#666666" stroke-width="1.5" stroke-linecap="butt"/>
<line x1="828.51" y1="595.30" x2="828.51" y2="593.50" stroke="#666666" stroke-width="1.5" stroke-linecap="butt"/>
<line x1="836.29" y1="595.30" x2="836.29" y2="593.50" stroke="#666666" stroke-width="1.5" stroke-linecap="butt"/>
<line x1="844.07" y1="595.30" x2="844.07" y2="593.00" stroke="#666666" stroke-width="2.0" stroke-linecap="butt"/>
<text x="844.07" y="611.00" font-size="13" text-anchor="middle" fill="#000000" >15</text>
<line x1="851.85" y1="595.30" x2="851.85" y2="593.50" stroke="#666666" stroke-width="1.5" stroke-linecap="butt"/>
<line x1="859.63" y1="595.30" x2="859.63" y2="593.50" stroke="#666666" stroke-width="1.5" stroke-linecap="butt"/>
<line x1="867.40" y1="595.30" x2="867.40" y2="593.50" stroke="#666666" stroke-width="1.5" stroke-linecap="butt"/>
<line x1="875.18" y1="595.30" x2="875.18" y2="593.50" stroke="#666666" stroke-width="1.5" stroke-linecap="butt"/>
<line x1="882.96" y1="595.30" x2="882.96" y2="593.00" stroke="#666666" stroke-width="2.0" stroke-linecap="butt"/>
<text x="882.96" y="611.00" font-size="13" text-anchor="middle" fill="#000000" >20</text>
<line x1="890.74" y1="595.30" x2="890.74" y2="593.50" stroke="#666666" stroke-width="1.5" stroke-linecap="butt"/>
<line x1="898.52" y1="595.30" x2="898.52" y2="593.50" stroke="#666666" stroke-width="1.5" stroke-linecap="butt"/>
<line x1="906.29" y1="595.30" x2="906.29" y2="593.50" stroke="#666666" stroke-width="1.5" stroke-linecap="butt"/>
<line x1="914.07" y1="595.30" x2="914.07" y2="593.50" stroke="#666666" stroke-width="1.5" stroke-linecap="butt"/>
<line x1="921.85" y1="595.30" x2="921.85" y2="593.00" stroke="#666666" stroke-width="2.0" stroke-linecap="butt"/>
<text x="921.85" y="611.00" font-size="13" text-anchor="middle" fill="#000000" >25</text>
<path d="M713.20,460.00 L713.20,448.79 M709.40,452.49 L713.20,448.49 L717.00,452.49" fill="none" stroke="#000" stroke-width="1.5" stroke-linejoin="miter"/>
<text x="723.70" y="460.00" font-size="13" text-anchor="start" fill="#000000" >NRP</text>
<path d="M936.70,595.20 L947.31,595.20 M944.01,591.80 L947.61,595.20 L944.01,598.60" fill="none" stroke="#000" stroke-width="1.5" stroke-linejoin="miter"/>
<text x="955.30" y="599.20" font-size="13" text-anchor="start" fill="#000000" font-style="italic">λ</text>
<text x="962.50" y="601.70" font-size="10.5" text-anchor="start" fill="#000000" font-style="italic">o</text>
<line x1="840.40" y1="485.20" x2="864.20" y2="485.20" stroke="#996633" stroke-width="2" stroke-linecap="butt"/>
<text x="870.40" y="490.10" font-size="13" text-anchor="start" fill="#000000" >b=0.878</text>
</svg>
</body></html>
